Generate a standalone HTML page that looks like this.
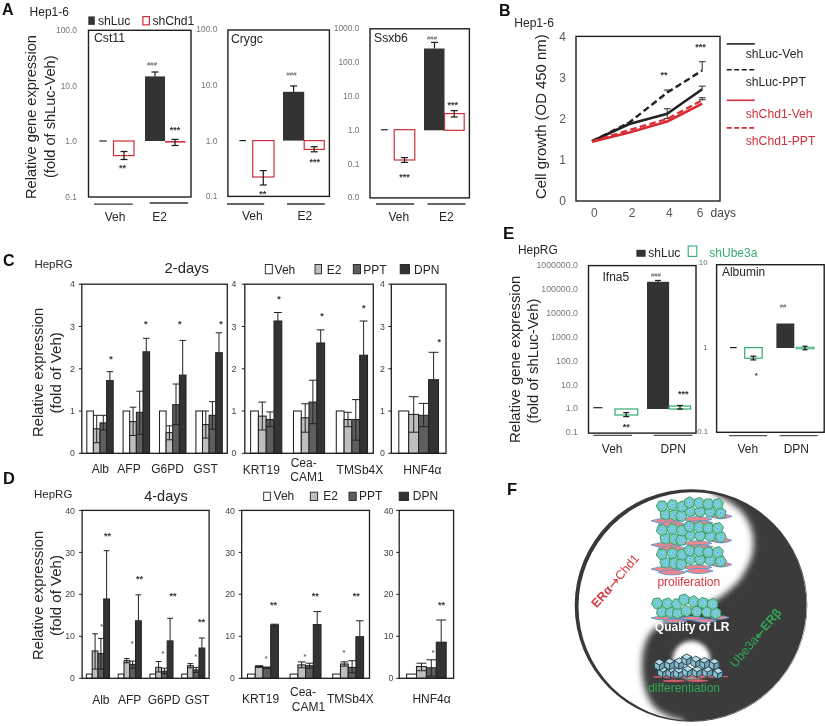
<!DOCTYPE html>
<html><head><meta charset="utf-8"><title>Figure</title>
<style>
html,body{margin:0;padding:0;background:#fff;}
svg{display:block;font-family:"Liberation Sans",sans-serif;}
</style></head><body>
<svg width="825" height="726" viewBox="0 0 825 726">
<rect width="825" height="726" fill="#fff"/>
<text x="2.0" y="14.5" font-size="16" fill="#111" font-weight="bold">A</text>
<text x="29.6" y="16.0" font-size="12" fill="#262626">Hep1-6</text>
<rect x="88.3" y="16.4" width="6.5" height="8.5" fill="#333333"/>
<text x="97.9" y="24.8" font-size="12.2" fill="#262626">shLuc</text>
<rect x="142.9" y="16.6" width="6.5" height="8.2" fill="#fff" stroke="#cc2f3a" stroke-width="1.2"/>
<text x="152.4" y="24.8" font-size="12.2" fill="#262626">shChd1</text>
<text transform="translate(36.2 199.0) rotate(-90)" font-size="14.6" fill="#262626">Relative gene expression</text>
<text transform="translate(55.2 178.0) rotate(-90)" font-size="14.6" fill="#262626">(fold of shLuc-Veh)</text>
<text x="77.0" y="33.3" font-size="8.4" fill="#747474" text-anchor="end">100.0</text>
<text x="77.0" y="88.8" font-size="8.4" fill="#747474" text-anchor="end">10.0</text>
<text x="77.0" y="144.4" font-size="8.4" fill="#747474" text-anchor="end">1.0</text>
<text x="77.0" y="200.0" font-size="8.4" fill="#747474" text-anchor="end">0.1</text>
<text x="94.0" y="42.4" font-size="12.2" fill="#262626">Cst11</text>
<line x1="99.4" y1="141.0" x2="106.7" y2="141.0" stroke="#1f1f1f" stroke-width="1.2"/>
<rect x="113.5" y="141.0" width="20.5" height="14.6" fill="#fff" stroke="#cc2f3a" stroke-width="1.2"/>
<line x1="124.0" y1="151.5" x2="124.0" y2="159.5" stroke="#1f1f1f" stroke-width="1.25"/>
<line x1="120.5" y1="151.5" x2="127.5" y2="151.5" stroke="#1f1f1f" stroke-width="1.25"/>
<line x1="120.5" y1="159.5" x2="127.5" y2="159.5" stroke="#1f1f1f" stroke-width="1.25"/>
<text x="122.4" y="170.6" font-size="9" fill="#333" text-anchor="middle" font-weight="bold">**</text>
<rect x="145.0" y="76.4" width="20.0" height="64.6" fill="#333333"/>
<line x1="155.0" y1="72.0" x2="155.0" y2="76.4" stroke="#1f1f1f" stroke-width="1.25"/>
<line x1="151.5" y1="72.0" x2="158.5" y2="72.0" stroke="#1f1f1f" stroke-width="1.25"/>
<text x="152.0" y="65.7" font-size="6" fill="#555" text-anchor="middle">###</text>
<line x1="165.0" y1="141.8" x2="185.5" y2="141.8" stroke="#cc2f3a" stroke-width="1.6"/>
<line x1="175.0" y1="139.4" x2="175.0" y2="145.5" stroke="#1f1f1f" stroke-width="1.25"/>
<line x1="171.5" y1="139.4" x2="178.5" y2="139.4" stroke="#1f1f1f" stroke-width="1.25"/>
<line x1="171.5" y1="145.5" x2="178.5" y2="145.5" stroke="#1f1f1f" stroke-width="1.25"/>
<text x="175.0" y="132.6" font-size="9" fill="#333" text-anchor="middle" font-weight="bold">***</text>
<rect x="88.5" y="30.3" width="102.5" height="166.7" fill="none" stroke="#1f1f1f" stroke-width="1.4"/>
<line x1="94.0" y1="204.2" x2="132.6" y2="204.2" stroke="#333" stroke-width="1.3"/>
<line x1="149.8" y1="203.0" x2="187.9" y2="203.0" stroke="#333" stroke-width="1.3"/>
<text x="104.7" y="220.5" font-size="12" fill="#262626">Veh</text>
<text x="152.2" y="220.5" font-size="12" fill="#262626">E2</text>
<text x="217.3" y="32.0" font-size="8.4" fill="#747474" text-anchor="end">100.0</text>
<text x="217.3" y="87.5" font-size="8.4" fill="#747474" text-anchor="end">10.0</text>
<text x="217.3" y="143.6" font-size="8.4" fill="#747474" text-anchor="end">1.0</text>
<text x="217.3" y="198.8" font-size="8.4" fill="#747474" text-anchor="end">0.1</text>
<text x="231.0" y="42.7" font-size="12.2" fill="#262626">Crygc</text>
<line x1="239.4" y1="140.6" x2="246.0" y2="140.6" stroke="#1f1f1f" stroke-width="1.2"/>
<rect x="252.7" y="140.6" width="21.3" height="36.4" fill="#fff" stroke="#cc2f3a" stroke-width="1.2"/>
<line x1="263.3" y1="170.6" x2="263.3" y2="185.0" stroke="#1f1f1f" stroke-width="1.25"/>
<line x1="259.8" y1="170.6" x2="266.8" y2="170.6" stroke="#1f1f1f" stroke-width="1.25"/>
<line x1="259.8" y1="185.0" x2="266.8" y2="185.0" stroke="#1f1f1f" stroke-width="1.25"/>
<text x="262.7" y="196.9" font-size="9" fill="#333" text-anchor="middle" font-weight="bold">**</text>
<rect x="283.0" y="91.8" width="21.2" height="48.8" fill="#333333"/>
<line x1="293.6" y1="86.0" x2="293.6" y2="91.8" stroke="#1f1f1f" stroke-width="1.25"/>
<line x1="290.1" y1="86.0" x2="297.1" y2="86.0" stroke="#1f1f1f" stroke-width="1.25"/>
<text x="291.5" y="75.8" font-size="6" fill="#555" text-anchor="middle">###</text>
<rect x="304.2" y="140.6" width="20.0" height="8.8" fill="#fff" stroke="#cc2f3a" stroke-width="1.2"/>
<line x1="314.2" y1="146.7" x2="314.2" y2="151.8" stroke="#1f1f1f" stroke-width="1.25"/>
<line x1="310.7" y1="146.7" x2="317.7" y2="146.7" stroke="#1f1f1f" stroke-width="1.25"/>
<line x1="310.7" y1="151.8" x2="317.7" y2="151.8" stroke="#1f1f1f" stroke-width="1.25"/>
<text x="314.8" y="165.4" font-size="9" fill="#333" text-anchor="middle" font-weight="bold">***</text>
<rect x="227.9" y="30.0" width="101.5" height="166.4" fill="none" stroke="#1f1f1f" stroke-width="1.4"/>
<line x1="227.0" y1="204.0" x2="264.2" y2="204.0" stroke="#333" stroke-width="1.3"/>
<line x1="287.0" y1="204.0" x2="324.8" y2="204.0" stroke="#333" stroke-width="1.3"/>
<text x="242.0" y="220.0" font-size="12" fill="#262626">Veh</text>
<text x="297.6" y="220.0" font-size="12" fill="#262626">E2</text>
<text x="359.4" y="31.2" font-size="8.4" fill="#747474" text-anchor="end">1000.0</text>
<text x="359.4" y="65.1" font-size="8.4" fill="#747474" text-anchor="end">100.0</text>
<text x="359.4" y="98.8" font-size="8.4" fill="#747474" text-anchor="end">10.0</text>
<text x="359.4" y="132.7" font-size="8.4" fill="#747474" text-anchor="end">1.0</text>
<text x="359.4" y="166.6" font-size="8.4" fill="#747474" text-anchor="end">0.1</text>
<text x="359.4" y="200.3" font-size="8.4" fill="#747474" text-anchor="end">0.0</text>
<text x="374.0" y="42.4" font-size="12.2" fill="#262626">Ssxb6</text>
<line x1="381.0" y1="129.7" x2="387.6" y2="129.7" stroke="#1f1f1f" stroke-width="1.2"/>
<rect x="394.2" y="129.7" width="20.6" height="30.3" fill="#fff" stroke="#cc2f3a" stroke-width="1.2"/>
<line x1="404.5" y1="157.6" x2="404.5" y2="162.4" stroke="#1f1f1f" stroke-width="1.25"/>
<line x1="401.0" y1="157.6" x2="408.0" y2="157.6" stroke="#1f1f1f" stroke-width="1.25"/>
<line x1="401.0" y1="162.4" x2="408.0" y2="162.4" stroke="#1f1f1f" stroke-width="1.25"/>
<text x="404.5" y="179.6" font-size="9" fill="#333" text-anchor="middle" font-weight="bold">***</text>
<rect x="424.0" y="48.5" width="20.5" height="81.8" fill="#333333"/>
<line x1="434.5" y1="42.4" x2="434.5" y2="48.5" stroke="#1f1f1f" stroke-width="1.25"/>
<line x1="431.0" y1="42.4" x2="438.0" y2="42.4" stroke="#1f1f1f" stroke-width="1.25"/>
<text x="432.0" y="40.4" font-size="6" fill="#555" text-anchor="middle">###</text>
<rect x="444.5" y="113.6" width="19.7" height="16.7" fill="#fff" stroke="#cc2f3a" stroke-width="1.2"/>
<line x1="454.2" y1="110.6" x2="454.2" y2="117.0" stroke="#1f1f1f" stroke-width="1.25"/>
<line x1="450.7" y1="110.6" x2="457.7" y2="110.6" stroke="#1f1f1f" stroke-width="1.25"/>
<line x1="450.7" y1="117.0" x2="457.7" y2="117.0" stroke="#1f1f1f" stroke-width="1.25"/>
<text x="452.7" y="108.1" font-size="9" fill="#333" text-anchor="middle" font-weight="bold">***</text>
<rect x="370.0" y="28.8" width="99.4" height="169.1" fill="none" stroke="#1f1f1f" stroke-width="1.4"/>
<line x1="376.0" y1="204.0" x2="414.2" y2="204.0" stroke="#333" stroke-width="1.3"/>
<line x1="427.6" y1="204.0" x2="465.5" y2="204.0" stroke="#333" stroke-width="1.3"/>
<text x="388.5" y="221.2" font-size="12" fill="#262626">Veh</text>
<text x="439.0" y="221.3" font-size="12" fill="#262626">E2</text>
<text x="499.0" y="16.2" font-size="16" fill="#111" font-weight="bold">B</text>
<text x="514.2" y="26.8" font-size="12.1" fill="#262626">Hep1-6</text>
<text transform="translate(545.7 199.0) rotate(-90)" font-size="14.9" fill="#262626">Cell growth (OD 450 nm)</text>
<text x="562.7" y="40.7" font-size="12" fill="#595959" text-anchor="middle">4</text>
<text x="562.7" y="81.9" font-size="12" fill="#595959" text-anchor="middle">3</text>
<text x="562.7" y="122.9" font-size="12" fill="#595959" text-anchor="middle">2</text>
<text x="562.7" y="164.2" font-size="12" fill="#595959" text-anchor="middle">1</text>
<text x="562.7" y="204.9" font-size="12" fill="#595959" text-anchor="middle">0</text>
<text x="594.4" y="217.3" font-size="12" fill="#595959" text-anchor="middle">0</text>
<text x="632.0" y="217.3" font-size="12" fill="#595959" text-anchor="middle">2</text>
<text x="669.4" y="217.3" font-size="12" fill="#595959" text-anchor="middle">4</text>
<text x="700.0" y="217.3" font-size="12" fill="#595959" text-anchor="middle">6</text>
<text x="710.6" y="217.3" font-size="12" fill="#444">days</text>
<line x1="667.2" y1="90.0" x2="667.2" y2="92.6" stroke="#4a4a4a" stroke-width="1.2"/>
<line x1="663.8" y1="90.0" x2="670.6" y2="90.0" stroke="#4a4a4a" stroke-width="1.2"/>
<line x1="702.2" y1="61.7" x2="702.2" y2="70.5" stroke="#4a4a4a" stroke-width="1.2"/>
<line x1="698.8" y1="61.7" x2="705.6" y2="61.7" stroke="#4a4a4a" stroke-width="1.2"/>
<line x1="667.2" y1="108.7" x2="667.2" y2="118.5" stroke="#4a4a4a" stroke-width="1.2"/>
<line x1="663.8" y1="108.7" x2="670.6" y2="108.7" stroke="#4a4a4a" stroke-width="1.2"/>
<line x1="663.8" y1="118.5" x2="670.6" y2="118.5" stroke="#4a4a4a" stroke-width="1.2"/>
<line x1="702.2" y1="86.2" x2="702.2" y2="89.2" stroke="#4a4a4a" stroke-width="1.2"/>
<line x1="698.8" y1="86.2" x2="705.6" y2="86.2" stroke="#4a4a4a" stroke-width="1.2"/>
<line x1="702.2" y1="97.7" x2="702.2" y2="100.2" stroke="#4a4a4a" stroke-width="1.2"/>
<line x1="698.8" y1="97.7" x2="705.6" y2="97.7" stroke="#4a4a4a" stroke-width="1.2"/>
<line x1="698.8" y1="99.7" x2="705.6" y2="99.7" stroke="#4a4a4a" stroke-width="1.2"/>
<line x1="629.3" y1="122.6" x2="629.3" y2="124.0" stroke="#4a4a4a" stroke-width="1.2"/>
<line x1="626.5" y1="122.6" x2="632.0" y2="122.6" stroke="#4a4a4a" stroke-width="1.2"/>
<polyline points="592.0,141.2 629.3,124.0 667.2,113.8 702.2,89.2" fill="none" stroke="#222" stroke-width="2.6" stroke-linejoin="round"/>
<polyline points="592.0,141.2 629.3,122.5 667.2,92.6 702.2,70.5" fill="none" stroke="#222" stroke-width="2.4" stroke-linejoin="round" stroke-dasharray="6.5 3.5"/>
<polyline points="592.0,141.5 629.3,130.0 667.2,118.9 702.2,100.2" fill="none" stroke="#dc2a34" stroke-width="2.2" stroke-linejoin="round" stroke-dasharray="6.5 3.5"/>
<polyline points="592.0,141.8 629.3,132.5 667.2,121.5 702.2,103.6" fill="none" stroke="#dc2a34" stroke-width="2.6" stroke-linejoin="round"/>
<rect x="576.0" y="36.4" width="144.0" height="164.6" fill="none" stroke="#1f1f1f" stroke-width="1.4"/>
<text x="664.0" y="77.9" font-size="9" fill="#333" text-anchor="middle" font-weight="bold">**</text>
<text x="700.4" y="50.2" font-size="9" fill="#333" text-anchor="middle" font-weight="bold">***</text>
<line x1="726.7" y1="43.9" x2="754.8" y2="43.9" stroke="#222" stroke-width="1.6"/>
<line x1="726.7" y1="69.8" x2="754.8" y2="69.8" stroke="#222" stroke-width="1.6" stroke-dasharray="5 2.5"/>
<line x1="726.7" y1="100.3" x2="754.8" y2="100.3" stroke="#cc2f3a" stroke-width="1.6"/>
<line x1="726.7" y1="127.9" x2="754.8" y2="127.9" stroke="#cc2f3a" stroke-width="1.6" stroke-dasharray="5 2.5"/>
<text x="745.8" y="58.4" font-size="12.15" fill="#262626">shLuc-Veh</text>
<text x="745.8" y="85.7" font-size="12.15" fill="#262626">shLuc-PPT</text>
<text x="745.8" y="117.5" font-size="12.15" fill="#cc2f3a">shChd1-Veh</text>
<text x="745.8" y="144.5" font-size="12.15" fill="#cc2f3a">shChd1-PPT</text>
<text x="3.0" y="266.0" font-size="16" fill="#111" font-weight="bold">C</text>
<text x="34.4" y="267.8" font-size="11.5" fill="#262626">HepRG</text>
<text x="164.5" y="272.7" font-size="14.8" fill="#262626">2-days</text>
<text transform="translate(42.7 437.0) rotate(-90)" font-size="14.8" fill="#262626">Relative expression</text>
<text transform="translate(61.2 413.5) rotate(-90)" font-size="15.1" fill="#262626">(fold of Veh)</text>
<rect x="265.3" y="264.5" width="7.0" height="9.3" fill="#fff" stroke="#222" stroke-width="0.9"/>
<text x="274.6" y="273.8" font-size="12" fill="#262626">Veh</text>
<rect x="315.0" y="264.5" width="6.5" height="9.3" fill="#bebebe" stroke="#222" stroke-width="0.9"/>
<text x="326.8" y="273.8" font-size="12" fill="#262626">E2</text>
<rect x="353.3" y="264.5" width="7.2" height="9.3" fill="#5e5e5e" stroke="#222" stroke-width="0.9"/>
<text x="363.2" y="273.8" font-size="12" fill="#262626">PPT</text>
<rect x="400.2" y="264.5" width="9.3" height="9.3" fill="#333333" stroke="#222" stroke-width="0.9"/>
<text x="414.0" y="273.8" font-size="12" fill="#262626">DPN</text>
<rect x="86.8" y="411.0" width="6.6" height="42.3" fill="#ffffff" stroke="#222" stroke-width="1.05"/>
<rect x="93.4" y="428.8" width="6.6" height="24.5" fill="#bebebe" stroke="#222" stroke-width="1.05"/>
<rect x="100.0" y="422.9" width="6.6" height="30.4" fill="#5e5e5e" stroke="#222" stroke-width="1.05"/>
<rect x="106.6" y="380.6" width="6.6" height="72.7" fill="#333333" stroke="#222" stroke-width="1.05"/>
<line x1="96.7" y1="415.3" x2="96.7" y2="442.7" stroke="#222" stroke-width="1.0"/>
<line x1="93.4" y1="415.3" x2="100.0" y2="415.3" stroke="#222" stroke-width="1.0"/>
<line x1="93.4" y1="442.7" x2="100.0" y2="442.7" stroke="#222" stroke-width="1.0"/>
<line x1="103.3" y1="415.3" x2="103.3" y2="430.0" stroke="#222" stroke-width="1.0"/>
<line x1="100.0" y1="415.3" x2="106.6" y2="415.3" stroke="#222" stroke-width="1.0"/>
<line x1="100.0" y1="430.0" x2="106.6" y2="430.0" stroke="#222" stroke-width="1.0"/>
<line x1="109.9" y1="371.7" x2="109.9" y2="380.6" stroke="#222" stroke-width="1.0"/>
<line x1="106.6" y1="371.7" x2="113.2" y2="371.7" stroke="#222" stroke-width="1.0"/>
<rect x="123.1" y="411.0" width="6.6" height="42.3" fill="#ffffff" stroke="#222" stroke-width="1.05"/>
<rect x="129.7" y="421.6" width="6.6" height="31.7" fill="#bebebe" stroke="#222" stroke-width="1.05"/>
<rect x="136.4" y="412.3" width="6.6" height="41.0" fill="#5e5e5e" stroke="#222" stroke-width="1.05"/>
<rect x="143.0" y="351.8" width="6.6" height="101.5" fill="#333333" stroke="#222" stroke-width="1.05"/>
<line x1="133.1" y1="407.2" x2="133.1" y2="435.5" stroke="#222" stroke-width="1.0"/>
<line x1="129.7" y1="407.2" x2="136.4" y2="407.2" stroke="#222" stroke-width="1.0"/>
<line x1="129.7" y1="435.5" x2="136.4" y2="435.5" stroke="#222" stroke-width="1.0"/>
<line x1="139.7" y1="391.2" x2="139.7" y2="434.3" stroke="#222" stroke-width="1.0"/>
<line x1="136.4" y1="391.2" x2="143.0" y2="391.2" stroke="#222" stroke-width="1.0"/>
<line x1="136.4" y1="434.3" x2="143.0" y2="434.3" stroke="#222" stroke-width="1.0"/>
<line x1="146.3" y1="338.3" x2="146.3" y2="351.8" stroke="#222" stroke-width="1.0"/>
<line x1="143.0" y1="338.3" x2="149.6" y2="338.3" stroke="#222" stroke-width="1.0"/>
<rect x="159.5" y="411.0" width="6.6" height="42.3" fill="#ffffff" stroke="#222" stroke-width="1.05"/>
<rect x="166.1" y="432.6" width="6.6" height="20.7" fill="#bebebe" stroke="#222" stroke-width="1.05"/>
<rect x="172.7" y="404.7" width="6.6" height="48.6" fill="#5e5e5e" stroke="#222" stroke-width="1.05"/>
<rect x="179.4" y="375.1" width="6.6" height="78.2" fill="#333333" stroke="#222" stroke-width="1.05"/>
<line x1="169.4" y1="425.8" x2="169.4" y2="439.8" stroke="#222" stroke-width="1.0"/>
<line x1="166.1" y1="425.8" x2="172.7" y2="425.8" stroke="#222" stroke-width="1.0"/>
<line x1="166.1" y1="439.8" x2="172.7" y2="439.8" stroke="#222" stroke-width="1.0"/>
<line x1="176.0" y1="384.0" x2="176.0" y2="424.6" stroke="#222" stroke-width="1.0"/>
<line x1="172.7" y1="384.0" x2="179.4" y2="384.0" stroke="#222" stroke-width="1.0"/>
<line x1="172.7" y1="424.6" x2="179.4" y2="424.6" stroke="#222" stroke-width="1.0"/>
<line x1="182.7" y1="340.4" x2="182.7" y2="375.1" stroke="#222" stroke-width="1.0"/>
<line x1="179.4" y1="340.4" x2="186.0" y2="340.4" stroke="#222" stroke-width="1.0"/>
<rect x="195.9" y="411.0" width="6.6" height="42.3" fill="#ffffff" stroke="#222" stroke-width="1.05"/>
<rect x="202.5" y="424.6" width="6.6" height="28.7" fill="#bebebe" stroke="#222" stroke-width="1.05"/>
<rect x="209.1" y="415.3" width="6.6" height="38.0" fill="#5e5e5e" stroke="#222" stroke-width="1.05"/>
<rect x="215.7" y="352.7" width="6.6" height="100.6" fill="#333333" stroke="#222" stroke-width="1.05"/>
<line x1="205.8" y1="411.0" x2="205.8" y2="438.1" stroke="#222" stroke-width="1.0"/>
<line x1="202.5" y1="411.0" x2="209.1" y2="411.0" stroke="#222" stroke-width="1.0"/>
<line x1="202.5" y1="438.1" x2="209.1" y2="438.1" stroke="#222" stroke-width="1.0"/>
<line x1="212.4" y1="401.7" x2="212.4" y2="429.2" stroke="#222" stroke-width="1.0"/>
<line x1="209.1" y1="401.7" x2="215.7" y2="401.7" stroke="#222" stroke-width="1.0"/>
<line x1="209.1" y1="429.2" x2="215.7" y2="429.2" stroke="#222" stroke-width="1.0"/>
<line x1="219.0" y1="332.8" x2="219.0" y2="352.7" stroke="#222" stroke-width="1.0"/>
<line x1="215.7" y1="332.8" x2="222.3" y2="332.8" stroke="#222" stroke-width="1.0"/>
<rect x="81.8" y="284.2" width="145.5" height="169.1" fill="none" stroke="#1f1f1f" stroke-width="1.3"/>
<line x1="78.8" y1="453.3" x2="81.8" y2="453.3" stroke="#1f1f1f" stroke-width="1"/>
<text x="75.0" y="456.4" font-size="8.8" fill="#444" text-anchor="end">0</text>
<line x1="78.8" y1="411.0" x2="81.8" y2="411.0" stroke="#1f1f1f" stroke-width="1"/>
<text x="75.0" y="414.1" font-size="8.8" fill="#444" text-anchor="end">1</text>
<line x1="78.8" y1="368.8" x2="81.8" y2="368.8" stroke="#1f1f1f" stroke-width="1"/>
<text x="75.0" y="371.9" font-size="8.8" fill="#444" text-anchor="end">2</text>
<line x1="78.8" y1="326.5" x2="81.8" y2="326.5" stroke="#1f1f1f" stroke-width="1"/>
<text x="75.0" y="329.6" font-size="8.8" fill="#444" text-anchor="end">3</text>
<line x1="78.8" y1="284.2" x2="81.8" y2="284.2" stroke="#1f1f1f" stroke-width="1"/>
<text x="75.0" y="287.3" font-size="8.8" fill="#444" text-anchor="end">4</text>
<rect x="250.6" y="411.0" width="7.8" height="42.3" fill="#ffffff" stroke="#222" stroke-width="1.05"/>
<rect x="258.4" y="416.1" width="7.8" height="37.2" fill="#bebebe" stroke="#222" stroke-width="1.05"/>
<rect x="266.2" y="419.5" width="7.8" height="33.8" fill="#5e5e5e" stroke="#222" stroke-width="1.05"/>
<rect x="274.0" y="321.0" width="7.8" height="132.3" fill="#333333" stroke="#222" stroke-width="1.05"/>
<line x1="262.3" y1="402.1" x2="262.3" y2="430.0" stroke="#222" stroke-width="1.0"/>
<line x1="258.4" y1="402.1" x2="266.2" y2="402.1" stroke="#222" stroke-width="1.0"/>
<line x1="258.4" y1="430.0" x2="266.2" y2="430.0" stroke="#222" stroke-width="1.0"/>
<line x1="270.1" y1="411.9" x2="270.1" y2="426.7" stroke="#222" stroke-width="1.0"/>
<line x1="266.2" y1="411.9" x2="274.0" y2="411.9" stroke="#222" stroke-width="1.0"/>
<line x1="266.2" y1="426.7" x2="274.0" y2="426.7" stroke="#222" stroke-width="1.0"/>
<line x1="277.9" y1="312.5" x2="277.9" y2="321.0" stroke="#222" stroke-width="1.0"/>
<line x1="274.0" y1="312.5" x2="281.8" y2="312.5" stroke="#222" stroke-width="1.0"/>
<rect x="293.5" y="411.0" width="7.8" height="42.3" fill="#ffffff" stroke="#222" stroke-width="1.05"/>
<rect x="301.3" y="417.8" width="7.8" height="35.5" fill="#bebebe" stroke="#222" stroke-width="1.05"/>
<rect x="309.0" y="402.1" width="7.8" height="51.2" fill="#5e5e5e" stroke="#222" stroke-width="1.05"/>
<rect x="316.8" y="343.0" width="7.8" height="110.3" fill="#333333" stroke="#222" stroke-width="1.05"/>
<line x1="305.2" y1="403.8" x2="305.2" y2="432.2" stroke="#222" stroke-width="1.0"/>
<line x1="301.3" y1="403.8" x2="309.0" y2="403.8" stroke="#222" stroke-width="1.0"/>
<line x1="301.3" y1="432.2" x2="309.0" y2="432.2" stroke="#222" stroke-width="1.0"/>
<line x1="312.9" y1="380.2" x2="312.9" y2="423.7" stroke="#222" stroke-width="1.0"/>
<line x1="309.0" y1="380.2" x2="316.8" y2="380.2" stroke="#222" stroke-width="1.0"/>
<line x1="309.0" y1="423.7" x2="316.8" y2="423.7" stroke="#222" stroke-width="1.0"/>
<line x1="320.7" y1="329.9" x2="320.7" y2="343.0" stroke="#222" stroke-width="1.0"/>
<line x1="316.8" y1="329.9" x2="324.6" y2="329.9" stroke="#222" stroke-width="1.0"/>
<rect x="336.3" y="411.0" width="7.8" height="42.3" fill="#ffffff" stroke="#222" stroke-width="1.05"/>
<rect x="344.1" y="419.5" width="7.8" height="33.8" fill="#bebebe" stroke="#222" stroke-width="1.05"/>
<rect x="351.9" y="419.5" width="7.8" height="33.8" fill="#5e5e5e" stroke="#222" stroke-width="1.05"/>
<rect x="359.7" y="355.2" width="7.8" height="98.1" fill="#333333" stroke="#222" stroke-width="1.05"/>
<line x1="348.0" y1="412.3" x2="348.0" y2="426.7" stroke="#222" stroke-width="1.0"/>
<line x1="344.1" y1="412.3" x2="351.9" y2="412.3" stroke="#222" stroke-width="1.0"/>
<line x1="344.1" y1="426.7" x2="351.9" y2="426.7" stroke="#222" stroke-width="1.0"/>
<line x1="355.8" y1="399.6" x2="355.8" y2="440.2" stroke="#222" stroke-width="1.0"/>
<line x1="351.9" y1="399.6" x2="359.7" y2="399.6" stroke="#222" stroke-width="1.0"/>
<line x1="351.9" y1="440.2" x2="359.7" y2="440.2" stroke="#222" stroke-width="1.0"/>
<line x1="363.6" y1="321.0" x2="363.6" y2="355.2" stroke="#222" stroke-width="1.0"/>
<line x1="359.7" y1="321.0" x2="367.5" y2="321.0" stroke="#222" stroke-width="1.0"/>
<rect x="244.8" y="284.2" width="128.5" height="169.1" fill="none" stroke="#1f1f1f" stroke-width="1.3"/>
<line x1="241.8" y1="453.3" x2="244.8" y2="453.3" stroke="#1f1f1f" stroke-width="1"/>
<text x="236.5" y="456.4" font-size="8.8" fill="#444" text-anchor="end">0</text>
<line x1="241.8" y1="411.0" x2="244.8" y2="411.0" stroke="#1f1f1f" stroke-width="1"/>
<text x="236.5" y="414.1" font-size="8.8" fill="#444" text-anchor="end">1</text>
<line x1="241.8" y1="368.8" x2="244.8" y2="368.8" stroke="#1f1f1f" stroke-width="1"/>
<text x="236.5" y="371.9" font-size="8.8" fill="#444" text-anchor="end">2</text>
<line x1="241.8" y1="326.5" x2="244.8" y2="326.5" stroke="#1f1f1f" stroke-width="1"/>
<text x="236.5" y="329.6" font-size="8.8" fill="#444" text-anchor="end">3</text>
<line x1="241.8" y1="284.2" x2="244.8" y2="284.2" stroke="#1f1f1f" stroke-width="1"/>
<text x="236.5" y="287.3" font-size="8.8" fill="#444" text-anchor="end">4</text>
<rect x="398.8" y="411.0" width="9.9" height="42.3" fill="#ffffff" stroke="#222" stroke-width="1.05"/>
<rect x="408.7" y="414.4" width="9.9" height="38.9" fill="#bebebe" stroke="#222" stroke-width="1.05"/>
<rect x="418.6" y="415.3" width="9.9" height="38.0" fill="#5e5e5e" stroke="#222" stroke-width="1.05"/>
<rect x="428.6" y="379.7" width="9.9" height="73.6" fill="#333333" stroke="#222" stroke-width="1.05"/>
<line x1="413.7" y1="396.7" x2="413.7" y2="432.2" stroke="#222" stroke-width="1.0"/>
<line x1="408.7" y1="396.7" x2="418.6" y2="396.7" stroke="#222" stroke-width="1.0"/>
<line x1="408.7" y1="432.2" x2="418.6" y2="432.2" stroke="#222" stroke-width="1.0"/>
<line x1="423.6" y1="403.4" x2="423.6" y2="426.7" stroke="#222" stroke-width="1.0"/>
<line x1="418.6" y1="403.4" x2="428.6" y2="403.4" stroke="#222" stroke-width="1.0"/>
<line x1="418.6" y1="426.7" x2="428.6" y2="426.7" stroke="#222" stroke-width="1.0"/>
<line x1="433.6" y1="352.3" x2="433.6" y2="379.7" stroke="#222" stroke-width="1.0"/>
<line x1="428.6" y1="352.3" x2="438.5" y2="352.3" stroke="#222" stroke-width="1.0"/>
<rect x="391.3" y="284.2" width="54.7" height="169.1" fill="none" stroke="#1f1f1f" stroke-width="1.3"/>
<line x1="388.3" y1="453.3" x2="391.3" y2="453.3" stroke="#1f1f1f" stroke-width="1"/>
<text x="385.0" y="456.4" font-size="8.8" fill="#444" text-anchor="end">0</text>
<line x1="388.3" y1="411.0" x2="391.3" y2="411.0" stroke="#1f1f1f" stroke-width="1"/>
<text x="385.0" y="414.1" font-size="8.8" fill="#444" text-anchor="end">1</text>
<line x1="388.3" y1="368.8" x2="391.3" y2="368.8" stroke="#1f1f1f" stroke-width="1"/>
<text x="385.0" y="371.9" font-size="8.8" fill="#444" text-anchor="end">2</text>
<line x1="388.3" y1="326.5" x2="391.3" y2="326.5" stroke="#1f1f1f" stroke-width="1"/>
<text x="385.0" y="329.6" font-size="8.8" fill="#444" text-anchor="end">3</text>
<line x1="388.3" y1="284.2" x2="391.3" y2="284.2" stroke="#1f1f1f" stroke-width="1"/>
<text x="385.0" y="287.3" font-size="8.8" fill="#444" text-anchor="end">4</text>
<text x="111.0" y="362.1" font-size="9" fill="#333" text-anchor="middle" font-weight="bold">*</text>
<text x="145.8" y="326.6" font-size="9" fill="#333" text-anchor="middle" font-weight="bold">*</text>
<text x="179.7" y="326.6" font-size="9" fill="#333" text-anchor="middle" font-weight="bold">*</text>
<text x="221.0" y="326.6" font-size="9" fill="#333" text-anchor="middle" font-weight="bold">*</text>
<text x="278.9" y="302.2" font-size="9" fill="#333" text-anchor="middle" font-weight="bold">*</text>
<text x="321.9" y="318.6" font-size="9" fill="#333" text-anchor="middle" font-weight="bold">*</text>
<text x="363.8" y="310.5" font-size="9" fill="#333" text-anchor="middle" font-weight="bold">*</text>
<text x="439.2" y="344.5" font-size="9" fill="#333" text-anchor="middle" font-weight="bold">*</text>
<text x="100.3" y="473.0" font-size="12" fill="#262626" text-anchor="middle">Alb</text>
<text x="129.0" y="473.0" font-size="12" fill="#262626" text-anchor="middle">AFP</text>
<text x="167.6" y="473.0" font-size="12" fill="#262626" text-anchor="middle">G6PD</text>
<text x="205.5" y="473.0" font-size="12" fill="#262626" text-anchor="middle">GST</text>
<text x="261.4" y="474.0" font-size="12" fill="#262626" text-anchor="middle">KRT19</text>
<text x="303.7" y="466.5" font-size="12" fill="#262626" text-anchor="middle">Cea-</text>
<text x="307.0" y="481.4" font-size="12" fill="#262626" text-anchor="middle">CAM1</text>
<text x="359.9" y="474.0" font-size="12" fill="#262626" text-anchor="middle">TMSb4X</text>
<text x="422.4" y="474.0" font-size="12" fill="#262626" text-anchor="middle">HNF4α</text>
<text x="3.0" y="484.2" font-size="16.5" fill="#111" font-weight="bold">D</text>
<text x="34.0" y="498.0" font-size="11.5" fill="#262626">HepRG</text>
<text x="144.2" y="500.6" font-size="14.5" fill="#262626">4-days</text>
<text transform="translate(42.7 660.0) rotate(-90)" font-size="14.8" fill="#262626">Relative expression</text>
<text transform="translate(61.0 636.0) rotate(-90)" font-size="15" fill="#262626">(fold of Veh)</text>
<rect x="263.7" y="492.2" width="6.6" height="8.3" fill="#fff" stroke="#222" stroke-width="0.9"/>
<text x="273.6" y="499.8" font-size="12" fill="#262626">Veh</text>
<rect x="310.3" y="492.2" width="7.3" height="8.3" fill="#bebebe" stroke="#222" stroke-width="0.9"/>
<text x="323.2" y="499.8" font-size="12" fill="#262626">E2</text>
<rect x="349.0" y="492.2" width="7.2" height="8.3" fill="#5e5e5e" stroke="#222" stroke-width="0.9"/>
<text x="358.9" y="499.8" font-size="12" fill="#262626">PPT</text>
<rect x="399.2" y="492.2" width="9.3" height="8.3" fill="#333333" stroke="#222" stroke-width="0.9"/>
<text x="412.8" y="499.8" font-size="12" fill="#262626">DPN</text>
<rect x="86.4" y="674.1" width="5.8" height="4.2" fill="#ffffff" stroke="#222" stroke-width="1.05"/>
<rect x="92.2" y="651.0" width="5.8" height="27.3" fill="#bebebe" stroke="#222" stroke-width="1.05"/>
<rect x="98.0" y="653.5" width="5.8" height="24.8" fill="#5e5e5e" stroke="#222" stroke-width="1.05"/>
<rect x="103.7" y="599.0" width="5.8" height="79.3" fill="#333333" stroke="#222" stroke-width="1.05"/>
<line x1="95.1" y1="633.8" x2="95.1" y2="669.1" stroke="#222" stroke-width="1.0"/>
<line x1="92.2" y1="633.8" x2="98.0" y2="633.8" stroke="#222" stroke-width="1.0"/>
<line x1="92.2" y1="669.1" x2="98.0" y2="669.1" stroke="#222" stroke-width="1.0"/>
<line x1="100.9" y1="638.4" x2="100.9" y2="669.1" stroke="#222" stroke-width="1.0"/>
<line x1="98.0" y1="638.4" x2="103.7" y2="638.4" stroke="#222" stroke-width="1.0"/>
<line x1="98.0" y1="669.1" x2="103.7" y2="669.1" stroke="#222" stroke-width="1.0"/>
<line x1="106.6" y1="550.7" x2="106.6" y2="599.0" stroke="#222" stroke-width="1.0"/>
<line x1="103.7" y1="550.7" x2="109.5" y2="550.7" stroke="#222" stroke-width="1.0"/>
<rect x="118.2" y="674.1" width="5.8" height="4.2" fill="#ffffff" stroke="#222" stroke-width="1.05"/>
<rect x="124.0" y="660.7" width="5.8" height="17.6" fill="#bebebe" stroke="#222" stroke-width="1.05"/>
<rect x="129.7" y="664.4" width="5.8" height="13.9" fill="#5e5e5e" stroke="#222" stroke-width="1.05"/>
<rect x="135.5" y="620.8" width="5.8" height="57.5" fill="#333333" stroke="#222" stroke-width="1.05"/>
<line x1="126.8" y1="658.6" x2="126.8" y2="662.8" stroke="#222" stroke-width="1.0"/>
<line x1="124.0" y1="658.6" x2="129.7" y2="658.6" stroke="#222" stroke-width="1.0"/>
<line x1="124.0" y1="662.8" x2="129.7" y2="662.8" stroke="#222" stroke-width="1.0"/>
<line x1="132.6" y1="661.1" x2="132.6" y2="668.2" stroke="#222" stroke-width="1.0"/>
<line x1="129.7" y1="661.1" x2="135.5" y2="661.1" stroke="#222" stroke-width="1.0"/>
<line x1="129.7" y1="668.2" x2="135.5" y2="668.2" stroke="#222" stroke-width="1.0"/>
<line x1="138.4" y1="594.8" x2="138.4" y2="620.8" stroke="#222" stroke-width="1.0"/>
<line x1="135.5" y1="594.8" x2="141.3" y2="594.8" stroke="#222" stroke-width="1.0"/>
<rect x="149.9" y="674.1" width="5.8" height="4.2" fill="#ffffff" stroke="#222" stroke-width="1.05"/>
<rect x="155.7" y="667.4" width="5.8" height="10.9" fill="#bebebe" stroke="#222" stroke-width="1.05"/>
<rect x="161.5" y="671.2" width="5.8" height="7.1" fill="#5e5e5e" stroke="#222" stroke-width="1.05"/>
<rect x="167.2" y="640.9" width="5.8" height="37.4" fill="#333333" stroke="#222" stroke-width="1.05"/>
<line x1="158.6" y1="661.5" x2="158.6" y2="672.0" stroke="#222" stroke-width="1.0"/>
<line x1="155.7" y1="661.5" x2="161.5" y2="661.5" stroke="#222" stroke-width="1.0"/>
<line x1="155.7" y1="672.0" x2="161.5" y2="672.0" stroke="#222" stroke-width="1.0"/>
<line x1="164.4" y1="668.2" x2="164.4" y2="673.7" stroke="#222" stroke-width="1.0"/>
<line x1="161.5" y1="668.2" x2="167.2" y2="668.2" stroke="#222" stroke-width="1.0"/>
<line x1="161.5" y1="673.7" x2="167.2" y2="673.7" stroke="#222" stroke-width="1.0"/>
<line x1="170.1" y1="618.3" x2="170.1" y2="640.9" stroke="#222" stroke-width="1.0"/>
<line x1="167.2" y1="618.3" x2="173.0" y2="618.3" stroke="#222" stroke-width="1.0"/>
<rect x="181.7" y="674.1" width="5.8" height="4.2" fill="#ffffff" stroke="#222" stroke-width="1.05"/>
<rect x="187.5" y="665.7" width="5.8" height="12.6" fill="#bebebe" stroke="#222" stroke-width="1.05"/>
<rect x="193.2" y="669.9" width="5.8" height="8.4" fill="#5e5e5e" stroke="#222" stroke-width="1.05"/>
<rect x="199.0" y="648.1" width="5.8" height="30.2" fill="#333333" stroke="#222" stroke-width="1.05"/>
<line x1="190.3" y1="663.6" x2="190.3" y2="667.8" stroke="#222" stroke-width="1.0"/>
<line x1="187.5" y1="663.6" x2="193.2" y2="663.6" stroke="#222" stroke-width="1.0"/>
<line x1="187.5" y1="667.8" x2="193.2" y2="667.8" stroke="#222" stroke-width="1.0"/>
<line x1="196.1" y1="667.4" x2="196.1" y2="672.4" stroke="#222" stroke-width="1.0"/>
<line x1="193.2" y1="667.4" x2="199.0" y2="667.4" stroke="#222" stroke-width="1.0"/>
<line x1="193.2" y1="672.4" x2="199.0" y2="672.4" stroke="#222" stroke-width="1.0"/>
<line x1="201.9" y1="638.0" x2="201.9" y2="648.1" stroke="#222" stroke-width="1.0"/>
<line x1="199.0" y1="638.0" x2="204.8" y2="638.0" stroke="#222" stroke-width="1.0"/>
<rect x="82.1" y="510.4" width="127.0" height="167.9" fill="none" stroke="#1f1f1f" stroke-width="1.3"/>
<line x1="79.1" y1="678.3" x2="82.1" y2="678.3" stroke="#1f1f1f" stroke-width="1"/>
<text x="75.0" y="681.4" font-size="8.8" fill="#444" text-anchor="end">0</text>
<line x1="79.1" y1="636.3" x2="82.1" y2="636.3" stroke="#1f1f1f" stroke-width="1"/>
<text x="75.0" y="639.4" font-size="8.8" fill="#444" text-anchor="end">10</text>
<line x1="79.1" y1="594.3" x2="82.1" y2="594.3" stroke="#1f1f1f" stroke-width="1"/>
<text x="75.0" y="597.4" font-size="8.8" fill="#444" text-anchor="end">20</text>
<line x1="79.1" y1="552.4" x2="82.1" y2="552.4" stroke="#1f1f1f" stroke-width="1"/>
<text x="75.0" y="555.5" font-size="8.8" fill="#444" text-anchor="end">30</text>
<line x1="79.1" y1="510.4" x2="82.1" y2="510.4" stroke="#1f1f1f" stroke-width="1"/>
<text x="75.0" y="513.5" font-size="8.8" fill="#444" text-anchor="end">40</text>
<rect x="247.5" y="674.1" width="7.7" height="4.2" fill="#ffffff" stroke="#222" stroke-width="1.05"/>
<rect x="255.3" y="666.5" width="7.7" height="11.8" fill="#bebebe" stroke="#222" stroke-width="1.05"/>
<rect x="263.0" y="667.8" width="7.7" height="10.5" fill="#5e5e5e" stroke="#222" stroke-width="1.05"/>
<rect x="270.7" y="625.0" width="7.7" height="53.3" fill="#333333" stroke="#222" stroke-width="1.05"/>
<line x1="259.1" y1="665.7" x2="259.1" y2="667.4" stroke="#222" stroke-width="1.0"/>
<line x1="255.3" y1="665.7" x2="263.0" y2="665.7" stroke="#222" stroke-width="1.0"/>
<line x1="255.3" y1="667.4" x2="263.0" y2="667.4" stroke="#222" stroke-width="1.0"/>
<line x1="266.9" y1="667.0" x2="266.9" y2="668.6" stroke="#222" stroke-width="1.0"/>
<line x1="263.0" y1="667.0" x2="270.7" y2="667.0" stroke="#222" stroke-width="1.0"/>
<line x1="263.0" y1="668.6" x2="270.7" y2="668.6" stroke="#222" stroke-width="1.0"/>
<line x1="274.6" y1="624.2" x2="274.6" y2="625.0" stroke="#222" stroke-width="1.0"/>
<line x1="270.7" y1="624.2" x2="278.5" y2="624.2" stroke="#222" stroke-width="1.0"/>
<rect x="290.1" y="674.1" width="7.7" height="4.2" fill="#ffffff" stroke="#222" stroke-width="1.05"/>
<rect x="297.9" y="664.9" width="7.7" height="13.4" fill="#bebebe" stroke="#222" stroke-width="1.05"/>
<rect x="305.6" y="665.7" width="7.7" height="12.6" fill="#5e5e5e" stroke="#222" stroke-width="1.05"/>
<rect x="313.3" y="624.6" width="7.7" height="53.7" fill="#333333" stroke="#222" stroke-width="1.05"/>
<line x1="301.7" y1="661.9" x2="301.7" y2="667.8" stroke="#222" stroke-width="1.0"/>
<line x1="297.9" y1="661.9" x2="305.6" y2="661.9" stroke="#222" stroke-width="1.0"/>
<line x1="297.9" y1="667.8" x2="305.6" y2="667.8" stroke="#222" stroke-width="1.0"/>
<line x1="309.5" y1="663.2" x2="309.5" y2="668.2" stroke="#222" stroke-width="1.0"/>
<line x1="305.6" y1="663.2" x2="313.3" y2="663.2" stroke="#222" stroke-width="1.0"/>
<line x1="305.6" y1="668.2" x2="313.3" y2="668.2" stroke="#222" stroke-width="1.0"/>
<line x1="317.2" y1="611.6" x2="317.2" y2="624.6" stroke="#222" stroke-width="1.0"/>
<line x1="313.3" y1="611.6" x2="321.1" y2="611.6" stroke="#222" stroke-width="1.0"/>
<rect x="332.7" y="674.1" width="7.7" height="4.2" fill="#ffffff" stroke="#222" stroke-width="1.05"/>
<rect x="340.5" y="664.0" width="7.7" height="14.3" fill="#bebebe" stroke="#222" stroke-width="1.05"/>
<rect x="348.2" y="667.4" width="7.7" height="10.9" fill="#5e5e5e" stroke="#222" stroke-width="1.05"/>
<rect x="355.9" y="636.7" width="7.7" height="41.6" fill="#333333" stroke="#222" stroke-width="1.05"/>
<line x1="344.3" y1="661.9" x2="344.3" y2="666.1" stroke="#222" stroke-width="1.0"/>
<line x1="340.5" y1="661.9" x2="348.2" y2="661.9" stroke="#222" stroke-width="1.0"/>
<line x1="340.5" y1="666.1" x2="348.2" y2="666.1" stroke="#222" stroke-width="1.0"/>
<line x1="352.1" y1="660.7" x2="352.1" y2="672.8" stroke="#222" stroke-width="1.0"/>
<line x1="348.2" y1="660.7" x2="355.9" y2="660.7" stroke="#222" stroke-width="1.0"/>
<line x1="348.2" y1="672.8" x2="355.9" y2="672.8" stroke="#222" stroke-width="1.0"/>
<line x1="359.8" y1="620.8" x2="359.8" y2="636.7" stroke="#222" stroke-width="1.0"/>
<line x1="355.9" y1="620.8" x2="363.7" y2="620.8" stroke="#222" stroke-width="1.0"/>
<rect x="241.7" y="510.4" width="127.8" height="167.9" fill="none" stroke="#1f1f1f" stroke-width="1.3"/>
<line x1="238.7" y1="678.3" x2="241.7" y2="678.3" stroke="#1f1f1f" stroke-width="1"/>
<text x="235.0" y="681.4" font-size="8.8" fill="#444" text-anchor="end">0</text>
<line x1="238.7" y1="636.3" x2="241.7" y2="636.3" stroke="#1f1f1f" stroke-width="1"/>
<text x="235.0" y="639.4" font-size="8.8" fill="#444" text-anchor="end">10</text>
<line x1="238.7" y1="594.3" x2="241.7" y2="594.3" stroke="#1f1f1f" stroke-width="1"/>
<text x="235.0" y="597.4" font-size="8.8" fill="#444" text-anchor="end">20</text>
<line x1="238.7" y1="552.4" x2="241.7" y2="552.4" stroke="#1f1f1f" stroke-width="1"/>
<text x="235.0" y="555.5" font-size="8.8" fill="#444" text-anchor="end">30</text>
<line x1="238.7" y1="510.4" x2="241.7" y2="510.4" stroke="#1f1f1f" stroke-width="1"/>
<text x="235.0" y="513.5" font-size="8.8" fill="#444" text-anchor="end">40</text>
<rect x="406.6" y="674.1" width="9.9" height="4.2" fill="#ffffff" stroke="#222" stroke-width="1.05"/>
<rect x="416.5" y="666.5" width="9.9" height="11.8" fill="#bebebe" stroke="#222" stroke-width="1.05"/>
<rect x="426.4" y="667.8" width="9.9" height="10.5" fill="#5e5e5e" stroke="#222" stroke-width="1.05"/>
<rect x="436.3" y="642.2" width="9.9" height="36.1" fill="#333333" stroke="#222" stroke-width="1.05"/>
<line x1="421.5" y1="663.2" x2="421.5" y2="670.7" stroke="#222" stroke-width="1.0"/>
<line x1="416.5" y1="663.2" x2="426.4" y2="663.2" stroke="#222" stroke-width="1.0"/>
<line x1="416.5" y1="670.7" x2="426.4" y2="670.7" stroke="#222" stroke-width="1.0"/>
<line x1="431.3" y1="659.8" x2="431.3" y2="676.2" stroke="#222" stroke-width="1.0"/>
<line x1="426.4" y1="659.8" x2="436.3" y2="659.8" stroke="#222" stroke-width="1.0"/>
<line x1="426.4" y1="676.2" x2="436.3" y2="676.2" stroke="#222" stroke-width="1.0"/>
<line x1="441.2" y1="620.0" x2="441.2" y2="642.2" stroke="#222" stroke-width="1.0"/>
<line x1="436.3" y1="620.0" x2="446.2" y2="620.0" stroke="#222" stroke-width="1.0"/>
<rect x="399.2" y="510.4" width="54.4" height="167.9" fill="none" stroke="#1f1f1f" stroke-width="1.3"/>
<line x1="396.2" y1="678.3" x2="399.2" y2="678.3" stroke="#1f1f1f" stroke-width="1"/>
<text x="393.5" y="681.4" font-size="8.8" fill="#444" text-anchor="end">0</text>
<line x1="396.2" y1="636.3" x2="399.2" y2="636.3" stroke="#1f1f1f" stroke-width="1"/>
<text x="393.5" y="639.4" font-size="8.8" fill="#444" text-anchor="end">10</text>
<line x1="396.2" y1="594.3" x2="399.2" y2="594.3" stroke="#1f1f1f" stroke-width="1"/>
<text x="393.5" y="597.4" font-size="8.8" fill="#444" text-anchor="end">20</text>
<line x1="396.2" y1="552.4" x2="399.2" y2="552.4" stroke="#1f1f1f" stroke-width="1"/>
<text x="393.5" y="555.5" font-size="8.8" fill="#444" text-anchor="end">30</text>
<line x1="396.2" y1="510.4" x2="399.2" y2="510.4" stroke="#1f1f1f" stroke-width="1"/>
<text x="393.5" y="513.5" font-size="8.8" fill="#444" text-anchor="end">40</text>
<text x="107.6" y="539.1" font-size="9" fill="#333" text-anchor="middle" font-weight="bold">**</text>
<text x="139.4" y="581.5" font-size="9" fill="#333" text-anchor="middle" font-weight="bold">**</text>
<text x="173.0" y="598.6" font-size="9" fill="#333" text-anchor="middle" font-weight="bold">**</text>
<text x="201.5" y="624.6" font-size="9" fill="#333" text-anchor="middle" font-weight="bold">**</text>
<text x="273.6" y="608.2" font-size="9" fill="#333" text-anchor="middle" font-weight="bold">**</text>
<text x="315.2" y="599.3" font-size="9" fill="#333" text-anchor="middle" font-weight="bold">**</text>
<text x="356.2" y="599.3" font-size="9" fill="#333" text-anchor="middle" font-weight="bold">**</text>
<text x="441.5" y="608.2" font-size="9" fill="#333" text-anchor="middle" font-weight="bold">**</text>
<text x="101.8" y="629.2" font-size="7.5" fill="#666" text-anchor="middle" font-weight="bold">*</text>
<text x="132.1" y="645.8" font-size="7.5" fill="#666" text-anchor="middle" font-weight="bold">*</text>
<text x="163.0" y="656.1" font-size="7.5" fill="#666" text-anchor="middle" font-weight="bold">*</text>
<text x="195.8" y="658.6" font-size="7.5" fill="#666" text-anchor="middle" font-weight="bold">*</text>
<text x="266.3" y="661.3" font-size="7.5" fill="#666" text-anchor="middle" font-weight="bold">*</text>
<text x="305.0" y="658.7" font-size="7.5" fill="#666" text-anchor="middle" font-weight="bold">*</text>
<text x="344.0" y="655.4" font-size="7.5" fill="#666" text-anchor="middle" font-weight="bold">*</text>
<text x="433.3" y="654.7" font-size="7.5" fill="#666" text-anchor="middle" font-weight="bold">*</text>
<text x="100.8" y="703.8" font-size="12" fill="#262626" text-anchor="middle">Alb</text>
<text x="129.6" y="703.8" font-size="12" fill="#262626" text-anchor="middle">AFP</text>
<text x="164.0" y="703.8" font-size="12" fill="#262626" text-anchor="middle">G6PD</text>
<text x="197.0" y="703.8" font-size="12" fill="#262626" text-anchor="middle">GST</text>
<text x="260.5" y="703.0" font-size="12" fill="#262626" text-anchor="middle">KRT19</text>
<text x="303.0" y="695.9" font-size="12" fill="#262626" text-anchor="middle">Cea-</text>
<text x="308.5" y="711.4" font-size="12" fill="#262626" text-anchor="middle">CAM1</text>
<text x="350.3" y="703.0" font-size="12" fill="#262626" text-anchor="middle">TMSb4X</text>
<text x="431.6" y="703.0" font-size="12" fill="#262626" text-anchor="middle">HNF4α</text>
<text x="503.0" y="239.4" font-size="17" fill="#111" font-weight="bold">E</text>
<text x="518.0" y="253.5" font-size="11.9" fill="#262626">HepRG</text>
<rect x="636.4" y="249.8" width="9.2" height="7.0" fill="#333333"/>
<text x="648.3" y="256.7" font-size="12" fill="#262626">shLuc</text>
<rect x="688.2" y="246.0" width="8.6" height="10.4" fill="#fff" stroke="#32ad70" stroke-width="1.1"/>
<text x="709.3" y="256.7" font-size="12" fill="#32ad70">shUbe3a</text>
<text transform="translate(520.2 443.0) rotate(-90)" font-size="14.9" fill="#262626">Relative gene expression</text>
<text transform="translate(537.8 423.6) rotate(-90)" font-size="14.9" fill="#262626">(fold of shLuc-Veh)</text>
<text x="578.0" y="268.1" font-size="8.8" fill="#7a7a7a" text-anchor="end">1000000.0</text>
<text x="578.0" y="292.0" font-size="8.8" fill="#7a7a7a" text-anchor="end">100000.0</text>
<text x="578.0" y="315.8" font-size="8.8" fill="#7a7a7a" text-anchor="end">10000.0</text>
<text x="578.0" y="339.7" font-size="8.8" fill="#7a7a7a" text-anchor="end">1000.0</text>
<text x="578.0" y="363.6" font-size="8.8" fill="#7a7a7a" text-anchor="end">100.0</text>
<text x="578.0" y="387.5" font-size="8.8" fill="#7a7a7a" text-anchor="end">10.0</text>
<text x="578.0" y="411.3" font-size="8.8" fill="#7a7a7a" text-anchor="end">1.0</text>
<text x="578.0" y="435.2" font-size="8.8" fill="#7a7a7a" text-anchor="end">0.1</text>
<text x="602.5" y="280.8" font-size="12" fill="#262626">Ifna5</text>
<line x1="593.4" y1="407.7" x2="602.4" y2="407.7" stroke="#1f1f1f" stroke-width="1.2"/>
<rect x="615.0" y="409.0" width="22.7" height="6.0" fill="#fff" stroke="#32ad70" stroke-width="1.2"/>
<line x1="626.2" y1="412.6" x2="626.2" y2="416.6" stroke="#1f1f1f" stroke-width="1.25"/>
<line x1="623.2" y1="412.6" x2="629.2" y2="412.6" stroke="#1f1f1f" stroke-width="1.25"/>
<line x1="623.2" y1="416.6" x2="629.2" y2="416.6" stroke="#1f1f1f" stroke-width="1.25"/>
<text x="626.2" y="429.5" font-size="9" fill="#333" text-anchor="middle" font-weight="bold">**</text>
<rect x="647.0" y="281.8" width="22.1" height="127.2" fill="#333333"/>
<line x1="658.0" y1="280.5" x2="658.0" y2="281.8" stroke="#1f1f1f" stroke-width="1.25"/>
<line x1="655.0" y1="280.5" x2="661.0" y2="280.5" stroke="#1f1f1f" stroke-width="1.25"/>
<text x="655.9" y="277.4" font-size="6" fill="#555" text-anchor="middle">###</text>
<rect x="669.1" y="406.0" width="21.5" height="3.0" fill="#fff" stroke="#32ad70" stroke-width="1.2"/>
<line x1="680.0" y1="405.5" x2="680.0" y2="409.0" stroke="#1f1f1f" stroke-width="1.25"/>
<line x1="677.0" y1="405.5" x2="683.0" y2="405.5" stroke="#1f1f1f" stroke-width="1.25"/>
<line x1="677.0" y1="409.0" x2="683.0" y2="409.0" stroke="#1f1f1f" stroke-width="1.25"/>
<text x="683.3" y="397.1" font-size="9" fill="#333" text-anchor="middle" font-weight="bold">***</text>
<rect x="588.5" y="265.6" width="107.5" height="167.5" fill="none" stroke="#1f1f1f" stroke-width="1.4"/>
<line x1="593.4" y1="435.4" x2="632.0" y2="435.4" stroke="#555" stroke-width="1.3"/>
<line x1="653.7" y1="435.4" x2="692.2" y2="435.4" stroke="#555" stroke-width="1.3"/>
<text x="601.8" y="452.5" font-size="12" fill="#262626">Veh</text>
<text x="660.5" y="452.5" font-size="12" fill="#262626">DPN</text>
<text x="707.5" y="265.2" font-size="7.8" fill="#6a6a6a" text-anchor="end">10</text>
<text x="707.5" y="350.1" font-size="7.8" fill="#6a6a6a" text-anchor="end">1</text>
<text x="708.2" y="434.4" font-size="7.8" fill="#6a6a6a" text-anchor="end">0.1</text>
<text x="721.9" y="275.6" font-size="12" fill="#262626">Albumin</text>
<line x1="730.0" y1="347.6" x2="736.7" y2="347.6" stroke="#1f1f1f" stroke-width="1.2"/>
<rect x="744.7" y="347.6" width="17.5" height="10.6" fill="#fff" stroke="#32ad70" stroke-width="1.2"/>
<line x1="753.3" y1="356.2" x2="753.3" y2="359.9" stroke="#1f1f1f" stroke-width="1.25"/>
<line x1="750.3" y1="356.2" x2="756.3" y2="356.2" stroke="#1f1f1f" stroke-width="1.25"/>
<line x1="750.3" y1="359.9" x2="756.3" y2="359.9" stroke="#1f1f1f" stroke-width="1.25"/>
<text x="756.2" y="377.5" font-size="8" fill="#333" text-anchor="middle" font-weight="bold">*</text>
<rect x="776.4" y="323.5" width="17.9" height="24.5" fill="#333333"/>
<text x="783.0" y="308.2" font-size="6" fill="#555" text-anchor="middle">##</text>
<rect x="796.2" y="347.2" width="17.9" height="1.6" fill="#fff" stroke="#32ad70" stroke-width="1.0"/>
<line x1="805.0" y1="346.2" x2="805.0" y2="349.8" stroke="#1f1f1f" stroke-width="1.25"/>
<line x1="802.5" y1="346.2" x2="807.5" y2="346.2" stroke="#1f1f1f" stroke-width="1.25"/>
<line x1="802.5" y1="349.8" x2="807.5" y2="349.8" stroke="#1f1f1f" stroke-width="1.25"/>
<rect x="716.6" y="264.7" width="107.6" height="167.6" fill="none" stroke="#1f1f1f" stroke-width="1.4"/>
<line x1="729.1" y1="435.6" x2="767.1" y2="435.6" stroke="#555" stroke-width="1.3"/>
<line x1="779.7" y1="435.6" x2="817.7" y2="435.6" stroke="#555" stroke-width="1.3"/>
<text x="737.4" y="453.1" font-size="12" fill="#262626">Veh</text>
<text x="783.7" y="453.1" font-size="12" fill="#262626">DPN</text>
<text x="507.0" y="494.5" font-size="16.5" fill="#111" font-weight="bold">F</text>
<defs>
<clipPath id="yc"><circle cx="691" cy="605.5" r="115.5"/></clipPath>
<filter id="bl" x="-20%" y="-20%" width="140%" height="140%"><feGaussianBlur stdDeviation="3.2"/></filter>
<filter id="bl2" x="-40%" y="-40%" width="180%" height="180%"><feGaussianBlur stdDeviation="2.2"/></filter>
</defs>
<circle cx="691" cy="605.5" r="116.3" fill="#383838"/>
<circle cx="692.7" cy="606.4" r="114.2" fill="#fff"/>
<g clip-path="url(#yc)">
<path d="M712.6,493.2 L715.2,479.5 A129,129 0 0 1 682.0,734.3 L683,720.3 C681.2,719.8 675.5,718.9 672.0,717.6 C668.5,716.4 665.0,714.6 662.0,712.8 C659.0,710.9 656.3,709.1 654.0,706.5 C651.7,703.9 649.7,700.8 648.0,697.0 C646.3,693.2 644.8,688.8 643.8,684.0 C642.8,679.2 642.1,673.3 642.0,668.0 C641.9,662.7 642.1,657.0 643.0,652.0 C643.9,647.0 645.5,641.9 647.5,638.0 C649.5,634.1 651.6,631.3 655.0,628.5 C658.4,625.7 663.0,623.6 668.0,621.0 C673.0,618.4 679.2,615.7 685.0,613.0 C690.8,610.3 697.4,607.5 703.0,605.0 C708.6,602.5 713.9,601.0 718.5,598.3 C723.1,595.6 727.0,592.0 730.4,589.0 C733.8,586.0 736.5,583.5 739.0,580.5 C741.5,577.5 743.3,574.5 745.2,571.1 C747.1,567.7 749.2,563.5 750.5,560.0 C751.8,556.5 752.4,553.6 752.9,550.3 C753.4,547.0 753.5,543.5 753.2,540.0 C753.0,536.5 752.6,533.3 751.4,529.5 C750.1,525.7 748.2,520.7 745.7,517.0 C743.2,513.3 740.0,510.2 736.5,507.3 C733.0,504.4 729.0,501.7 725.0,499.3 C721.0,496.9 714.7,494.2 712.6,493.2 Z" fill="#3a3a3a" filter="url(#bl)"/>
<circle cx="691.5" cy="659.8" r="18.8" fill="#fff" filter="url(#bl2)"/>
</g>
<path d="M651.0,520.8 Q666.0,515.6 681.0,520.8 Q666.0,526.0 651.0,520.8 Z" fill="#f2858a" stroke="#5e9ad4" stroke-width="0.9"/>
<path d="M658.0,524.2 Q672.0,519.0 686.0,524.2 Q672.0,529.4 658.0,524.2 Z" fill="#f2858a" stroke="#5e9ad4" stroke-width="0.9"/>
<path d="M682.0,519.2 Q697.0,514.0 712.0,519.2 Q697.0,524.4 682.0,519.2 Z" fill="#f2858a" stroke="#5e9ad4" stroke-width="0.9"/>
<path d="M685.0,522.8 Q699.0,517.6 713.0,522.8 Q699.0,528.0 685.0,522.8 Z" fill="#f2858a" stroke="#5e9ad4" stroke-width="0.9"/>
<path d="M710.0,516.3 Q721.0,511.1 732.0,516.3 Q721.0,521.5 710.0,516.3 Z" fill="#f2858a" stroke="#5e9ad4" stroke-width="0.9"/>
<polygon points="670.6,517.1 665.8,520.2 660.7,517.6 660.4,511.9 665.2,508.8 670.3,511.4" fill="#79cfba" stroke="#389b74" stroke-width="1" stroke-linejoin="round"/>
<circle cx="665.6" cy="514.9" r="2.6" fill="#8ad5ec" stroke="#5aaed6" stroke-width="0.5"/>
<circle cx="665.6" cy="514.9" r="0.7" fill="#3f86c4"/>
<polygon points="679.5,517.7 674.6,520.7 669.5,518.0 669.3,512.3 674.2,509.3 679.3,512.0" fill="#79cfba" stroke="#389b74" stroke-width="1" stroke-linejoin="round"/>
<circle cx="674.4" cy="515.1" r="2.6" fill="#8ad5ec" stroke="#5aaed6" stroke-width="0.5"/>
<circle cx="674.4" cy="515.1" r="0.7" fill="#3f86c4"/>
<polygon points="686.9,517.1 683.2,521.4 677.5,520.3 675.7,514.9 679.4,510.6 685.1,511.7" fill="#79cfba" stroke="#389b74" stroke-width="1" stroke-linejoin="round"/>
<circle cx="681.3" cy="516.1" r="2.6" fill="#8ad5ec" stroke="#5aaed6" stroke-width="0.5"/>
<circle cx="681.3" cy="516.1" r="0.7" fill="#3f86c4"/>
<polygon points="694.2,515.3 688.6,516.5 684.7,512.2 686.4,506.7 692.0,505.5 695.9,509.8" fill="#79cfba" stroke="#389b74" stroke-width="1" stroke-linejoin="round"/>
<circle cx="689.9" cy="510.8" r="2.6" fill="#8ad5ec" stroke="#5aaed6" stroke-width="0.5"/>
<circle cx="689.9" cy="510.8" r="0.7" fill="#3f86c4"/>
<polygon points="705.7,512.0 702.4,516.7 696.7,516.2 694.3,511.0 697.6,506.3 703.3,506.8" fill="#79cfba" stroke="#389b74" stroke-width="1" stroke-linejoin="round"/>
<circle cx="700.3" cy="511.7" r="2.6" fill="#8ad5ec" stroke="#5aaed6" stroke-width="0.5"/>
<circle cx="700.3" cy="511.7" r="0.7" fill="#3f86c4"/>
<polygon points="715.9,512.3 712.9,517.1 707.1,516.8 704.5,511.7 707.5,506.9 713.3,507.2" fill="#79cfba" stroke="#389b74" stroke-width="1" stroke-linejoin="round"/>
<circle cx="710.7" cy="512.5" r="2.6" fill="#8ad5ec" stroke="#5aaed6" stroke-width="0.5"/>
<circle cx="710.7" cy="512.5" r="0.7" fill="#3f86c4"/>
<polygon points="725.0,516.6 719.7,518.7 715.2,515.0 716.2,509.4 721.5,507.3 726.0,511.0" fill="#79cfba" stroke="#389b74" stroke-width="1" stroke-linejoin="round"/>
<circle cx="720.7" cy="512.7" r="2.6" fill="#8ad5ec" stroke="#5aaed6" stroke-width="0.5"/>
<circle cx="720.7" cy="512.7" r="0.7" fill="#3f86c4"/>
<polygon points="667.7,506.1 664.8,511.0 659.0,510.9 656.3,505.9 659.2,501.0 665.0,501.1" fill="#79cfba" stroke="#389b74" stroke-width="1" stroke-linejoin="round"/>
<circle cx="662.0" cy="505.6" r="2.6" fill="#8ad5ec" stroke="#5aaed6" stroke-width="0.5"/>
<circle cx="662.0" cy="505.6" r="0.7" fill="#3f86c4"/>
<polygon points="678.0,506.1 674.2,510.5 668.6,509.3 666.8,503.9 670.6,499.5 676.2,500.7" fill="#79cfba" stroke="#389b74" stroke-width="1" stroke-linejoin="round"/>
<circle cx="672.1" cy="504.5" r="2.6" fill="#8ad5ec" stroke="#5aaed6" stroke-width="0.5"/>
<circle cx="672.1" cy="504.5" r="0.7" fill="#3f86c4"/>
<polygon points="687.1,509.2 682.2,512.2 677.1,509.6 676.9,503.8 681.8,500.8 686.9,503.4" fill="#79cfba" stroke="#389b74" stroke-width="1" stroke-linejoin="round"/>
<circle cx="681.9" cy="506.8" r="2.6" fill="#8ad5ec" stroke="#5aaed6" stroke-width="0.5"/>
<circle cx="681.9" cy="506.8" r="0.7" fill="#3f86c4"/>
<polygon points="694.5,505.5 689.5,508.2 684.6,505.3 684.7,499.5 689.7,496.8 694.6,499.7" fill="#79cfba" stroke="#389b74" stroke-width="1" stroke-linejoin="round"/>
<circle cx="689.7" cy="502.5" r="2.6" fill="#8ad5ec" stroke="#5aaed6" stroke-width="0.5"/>
<circle cx="689.7" cy="502.5" r="0.7" fill="#3f86c4"/>
<polygon points="703.6,506.7 698.2,508.7 693.8,505.0 694.8,499.3 700.2,497.3 704.6,501.0" fill="#79cfba" stroke="#389b74" stroke-width="1" stroke-linejoin="round"/>
<circle cx="699.2" cy="502.8" r="2.6" fill="#8ad5ec" stroke="#5aaed6" stroke-width="0.5"/>
<circle cx="699.2" cy="502.8" r="0.7" fill="#3f86c4"/>
<polygon points="711.1,509.0 705.3,509.0 702.5,504.0 705.3,499.0 711.1,499.0 713.9,504.0" fill="#79cfba" stroke="#389b74" stroke-width="1" stroke-linejoin="round"/>
<circle cx="708.7" cy="504.3" r="2.6" fill="#8ad5ec" stroke="#5aaed6" stroke-width="0.5"/>
<circle cx="708.7" cy="504.3" r="0.7" fill="#3f86c4"/>
<polygon points="722.0,507.9 716.5,509.6 712.3,505.7 713.6,500.1 719.1,498.4 723.3,502.3" fill="#79cfba" stroke="#389b74" stroke-width="1" stroke-linejoin="round"/>
<circle cx="717.6" cy="503.7" r="2.6" fill="#8ad5ec" stroke="#5aaed6" stroke-width="0.5"/>
<circle cx="717.6" cy="503.7" r="0.7" fill="#3f86c4"/>
<path d="M651.0,544.9 Q666.0,539.7 681.0,544.9 Q666.0,550.1 651.0,544.9 Z" fill="#f2858a" stroke="#5e9ad4" stroke-width="0.9"/>
<path d="M658.0,548.3 Q672.0,543.1 686.0,548.3 Q672.0,553.5 658.0,548.3 Z" fill="#f2858a" stroke="#5e9ad4" stroke-width="0.9"/>
<path d="M682.0,543.3 Q697.0,538.1 712.0,543.3 Q697.0,548.5 682.0,543.3 Z" fill="#f2858a" stroke="#5e9ad4" stroke-width="0.9"/>
<path d="M685.0,546.9 Q699.0,541.7 713.0,546.9 Q699.0,552.1 685.0,546.9 Z" fill="#f2858a" stroke="#5e9ad4" stroke-width="0.9"/>
<path d="M710.0,540.4 Q721.0,535.2 732.0,540.4 Q721.0,545.6 710.0,540.4 Z" fill="#f2858a" stroke="#5e9ad4" stroke-width="0.9"/>
<polygon points="671.0,540.3 666.8,544.2 661.3,542.5 660.0,536.9 664.2,533.0 669.7,534.7" fill="#79cfba" stroke="#389b74" stroke-width="1" stroke-linejoin="round"/>
<circle cx="665.1" cy="538.9" r="2.6" fill="#8ad5ec" stroke="#5aaed6" stroke-width="0.5"/>
<circle cx="665.1" cy="538.9" r="0.7" fill="#3f86c4"/>
<polygon points="679.6,541.4 675.0,544.8 669.7,542.5 669.2,536.8 673.8,533.4 679.1,535.7" fill="#79cfba" stroke="#389b74" stroke-width="1" stroke-linejoin="round"/>
<circle cx="674.7" cy="539.0" r="2.6" fill="#8ad5ec" stroke="#5aaed6" stroke-width="0.5"/>
<circle cx="674.7" cy="539.0" r="0.7" fill="#3f86c4"/>
<polygon points="684.4,545.0 678.6,545.2 675.6,540.3 678.2,535.2 684.0,535.0 687.0,539.9" fill="#79cfba" stroke="#389b74" stroke-width="1" stroke-linejoin="round"/>
<circle cx="681.6" cy="539.6" r="2.6" fill="#8ad5ec" stroke="#5aaed6" stroke-width="0.5"/>
<circle cx="681.6" cy="539.6" r="0.7" fill="#3f86c4"/>
<polygon points="695.9,536.4 692.0,540.6 686.4,539.3 684.7,533.8 688.6,529.6 694.2,530.9" fill="#79cfba" stroke="#389b74" stroke-width="1" stroke-linejoin="round"/>
<circle cx="690.7" cy="535.1" r="2.6" fill="#8ad5ec" stroke="#5aaed6" stroke-width="0.5"/>
<circle cx="690.7" cy="535.1" r="0.7" fill="#3f86c4"/>
<polygon points="703.0,540.5 697.2,540.6 694.3,535.7 697.0,530.7 702.8,530.6 705.7,535.5" fill="#79cfba" stroke="#389b74" stroke-width="1" stroke-linejoin="round"/>
<circle cx="699.9" cy="535.2" r="2.6" fill="#8ad5ec" stroke="#5aaed6" stroke-width="0.5"/>
<circle cx="699.9" cy="535.2" r="0.7" fill="#3f86c4"/>
<polygon points="714.7,539.6 709.4,541.8 704.9,538.3 705.7,532.6 711.0,530.4 715.5,533.9" fill="#79cfba" stroke="#389b74" stroke-width="1" stroke-linejoin="round"/>
<circle cx="710.5" cy="535.9" r="2.6" fill="#8ad5ec" stroke="#5aaed6" stroke-width="0.5"/>
<circle cx="710.5" cy="535.9" r="0.7" fill="#3f86c4"/>
<polygon points="726.3,537.6 723.0,542.3 717.3,541.8 714.9,536.6 718.2,531.9 723.9,532.4" fill="#79cfba" stroke="#389b74" stroke-width="1" stroke-linejoin="round"/>
<circle cx="720.4" cy="537.6" r="2.6" fill="#8ad5ec" stroke="#5aaed6" stroke-width="0.5"/>
<circle cx="720.4" cy="537.6" r="0.7" fill="#3f86c4"/>
<polygon points="666.0,534.2 660.5,535.6 656.4,531.5 658.0,526.0 663.5,524.6 667.6,528.7" fill="#79cfba" stroke="#389b74" stroke-width="1" stroke-linejoin="round"/>
<circle cx="661.6" cy="529.8" r="2.6" fill="#8ad5ec" stroke="#5aaed6" stroke-width="0.5"/>
<circle cx="661.6" cy="529.8" r="0.7" fill="#3f86c4"/>
<polygon points="678.1,529.7 674.7,534.4 669.0,533.7 666.7,528.5 670.1,523.8 675.8,524.5" fill="#79cfba" stroke="#389b74" stroke-width="1" stroke-linejoin="round"/>
<circle cx="672.0" cy="529.4" r="2.6" fill="#8ad5ec" stroke="#5aaed6" stroke-width="0.5"/>
<circle cx="672.0" cy="529.4" r="0.7" fill="#3f86c4"/>
<polygon points="687.7,531.7 683.9,536.0 678.3,535.0 676.3,529.5 680.1,525.2 685.7,526.2" fill="#79cfba" stroke="#389b74" stroke-width="1" stroke-linejoin="round"/>
<circle cx="682.1" cy="530.5" r="2.6" fill="#8ad5ec" stroke="#5aaed6" stroke-width="0.5"/>
<circle cx="682.1" cy="530.5" r="0.7" fill="#3f86c4"/>
<polygon points="695.2,527.7 691.4,532.1 685.8,530.9 684.0,525.5 687.8,521.1 693.4,522.3" fill="#79cfba" stroke="#389b74" stroke-width="1" stroke-linejoin="round"/>
<circle cx="689.8" cy="526.2" r="2.6" fill="#8ad5ec" stroke="#5aaed6" stroke-width="0.5"/>
<circle cx="689.8" cy="526.2" r="0.7" fill="#3f86c4"/>
<polygon points="703.7,530.7 698.3,532.8 693.8,529.2 694.7,523.5 700.1,521.4 704.6,525.0" fill="#79cfba" stroke="#389b74" stroke-width="1" stroke-linejoin="round"/>
<circle cx="698.8" cy="527.0" r="2.6" fill="#8ad5ec" stroke="#5aaed6" stroke-width="0.5"/>
<circle cx="698.8" cy="527.0" r="0.7" fill="#3f86c4"/>
<polygon points="713.8,529.4 709.9,533.6 704.3,532.3 702.6,526.8 706.5,522.6 712.1,523.9" fill="#79cfba" stroke="#389b74" stroke-width="1" stroke-linejoin="round"/>
<circle cx="708.0" cy="528.6" r="2.6" fill="#8ad5ec" stroke="#5aaed6" stroke-width="0.5"/>
<circle cx="708.0" cy="528.6" r="0.7" fill="#3f86c4"/>
<polygon points="721.6,532.4 716.0,533.6 712.2,529.3 714.0,523.8 719.6,522.6 723.4,526.9" fill="#79cfba" stroke="#389b74" stroke-width="1" stroke-linejoin="round"/>
<circle cx="717.6" cy="528.5" r="2.6" fill="#8ad5ec" stroke="#5aaed6" stroke-width="0.5"/>
<circle cx="717.6" cy="528.5" r="0.7" fill="#3f86c4"/>
<path d="M651.0,569.0 Q666.0,563.8 681.0,569.0 Q666.0,574.2 651.0,569.0 Z" fill="#f2858a" stroke="#5e9ad4" stroke-width="0.9"/>
<path d="M658.0,572.4 Q672.0,567.2 686.0,572.4 Q672.0,577.6 658.0,572.4 Z" fill="#f2858a" stroke="#5e9ad4" stroke-width="0.9"/>
<path d="M682.0,567.4 Q697.0,562.2 712.0,567.4 Q697.0,572.6 682.0,567.4 Z" fill="#f2858a" stroke="#5e9ad4" stroke-width="0.9"/>
<path d="M685.0,571.0 Q699.0,565.8 713.0,571.0 Q699.0,576.2 685.0,571.0 Z" fill="#f2858a" stroke="#5e9ad4" stroke-width="0.9"/>
<path d="M710.0,564.5 Q721.0,559.3 732.0,564.5 Q721.0,569.7 710.0,564.5 Z" fill="#f2858a" stroke="#5e9ad4" stroke-width="0.9"/>
<polygon points="671.1,564.0 667.2,568.2 661.6,566.9 659.9,561.4 663.8,557.2 669.4,558.5" fill="#79cfba" stroke="#389b74" stroke-width="1" stroke-linejoin="round"/>
<circle cx="665.4" cy="563.1" r="2.6" fill="#8ad5ec" stroke="#5aaed6" stroke-width="0.5"/>
<circle cx="665.4" cy="563.1" r="0.7" fill="#3f86c4"/>
<polygon points="678.9,566.8 673.5,568.9 669.0,565.3 669.9,559.6 675.3,557.5 679.8,561.1" fill="#79cfba" stroke="#389b74" stroke-width="1" stroke-linejoin="round"/>
<circle cx="674.0" cy="563.7" r="2.6" fill="#8ad5ec" stroke="#5aaed6" stroke-width="0.5"/>
<circle cx="674.0" cy="563.7" r="0.7" fill="#3f86c4"/>
<polygon points="686.9,565.5 683.0,569.7 677.4,568.4 675.7,562.9 679.6,558.7 685.2,560.0" fill="#79cfba" stroke="#389b74" stroke-width="1" stroke-linejoin="round"/>
<circle cx="681.1" cy="564.5" r="2.6" fill="#8ad5ec" stroke="#5aaed6" stroke-width="0.5"/>
<circle cx="681.1" cy="564.5" r="0.7" fill="#3f86c4"/>
<polygon points="695.7,561.1 691.3,564.9 685.9,562.9 684.9,557.3 689.3,553.5 694.7,555.5" fill="#79cfba" stroke="#389b74" stroke-width="1" stroke-linejoin="round"/>
<circle cx="690.1" cy="558.8" r="2.6" fill="#8ad5ec" stroke="#5aaed6" stroke-width="0.5"/>
<circle cx="690.1" cy="558.8" r="0.7" fill="#3f86c4"/>
<polygon points="705.7,560.2 702.4,564.9 696.7,564.4 694.3,559.2 697.6,554.5 703.3,555.0" fill="#79cfba" stroke="#389b74" stroke-width="1" stroke-linejoin="round"/>
<circle cx="700.1" cy="559.4" r="2.6" fill="#8ad5ec" stroke="#5aaed6" stroke-width="0.5"/>
<circle cx="700.1" cy="559.4" r="0.7" fill="#3f86c4"/>
<polygon points="714.8,563.6 709.6,565.9 704.9,562.5 705.6,556.8 710.8,554.5 715.5,557.9" fill="#79cfba" stroke="#389b74" stroke-width="1" stroke-linejoin="round"/>
<circle cx="710.1" cy="560.2" r="2.6" fill="#8ad5ec" stroke="#5aaed6" stroke-width="0.5"/>
<circle cx="710.1" cy="560.2" r="0.7" fill="#3f86c4"/>
<polygon points="723.7,566.1 717.9,566.3 714.9,561.4 717.5,556.3 723.3,556.1 726.3,561.0" fill="#79cfba" stroke="#389b74" stroke-width="1" stroke-linejoin="round"/>
<circle cx="720.6" cy="561.3" r="2.6" fill="#8ad5ec" stroke="#5aaed6" stroke-width="0.5"/>
<circle cx="720.6" cy="561.3" r="0.7" fill="#3f86c4"/>
<polygon points="665.5,558.7 659.8,559.5 656.3,555.0 658.5,549.7 664.2,548.9 667.7,553.4" fill="#79cfba" stroke="#389b74" stroke-width="1" stroke-linejoin="round"/>
<circle cx="661.7" cy="553.9" r="2.6" fill="#8ad5ec" stroke="#5aaed6" stroke-width="0.5"/>
<circle cx="661.7" cy="553.9" r="0.7" fill="#3f86c4"/>
<polygon points="675.7,557.9 670.0,558.4 666.7,553.7 669.1,548.5 674.8,548.0 678.1,552.7" fill="#79cfba" stroke="#389b74" stroke-width="1" stroke-linejoin="round"/>
<circle cx="672.7" cy="552.9" r="2.6" fill="#8ad5ec" stroke="#5aaed6" stroke-width="0.5"/>
<circle cx="672.7" cy="552.9" r="0.7" fill="#3f86c4"/>
<polygon points="687.6,555.8 683.8,560.2 678.2,559.0 676.4,553.6 680.2,549.2 685.8,550.4" fill="#79cfba" stroke="#389b74" stroke-width="1" stroke-linejoin="round"/>
<circle cx="682.2" cy="555.1" r="2.6" fill="#8ad5ec" stroke="#5aaed6" stroke-width="0.5"/>
<circle cx="682.2" cy="555.1" r="0.7" fill="#3f86c4"/>
<polygon points="695.2,551.9 691.4,556.2 685.8,555.0 684.0,549.5 687.8,545.2 693.4,546.4" fill="#79cfba" stroke="#389b74" stroke-width="1" stroke-linejoin="round"/>
<circle cx="690.1" cy="551.1" r="2.6" fill="#8ad5ec" stroke="#5aaed6" stroke-width="0.5"/>
<circle cx="690.1" cy="551.1" r="0.7" fill="#3f86c4"/>
<polygon points="703.8,554.6 698.6,556.9 693.9,553.5 694.6,547.8 699.8,545.5 704.5,548.9" fill="#79cfba" stroke="#389b74" stroke-width="1" stroke-linejoin="round"/>
<circle cx="699.1" cy="550.8" r="2.6" fill="#8ad5ec" stroke="#5aaed6" stroke-width="0.5"/>
<circle cx="699.1" cy="550.8" r="0.7" fill="#3f86c4"/>
<polygon points="713.9,552.4 710.9,557.3 705.1,557.1 702.5,552.0 705.5,547.1 711.3,547.3" fill="#79cfba" stroke="#389b74" stroke-width="1" stroke-linejoin="round"/>
<circle cx="708.7" cy="551.9" r="2.6" fill="#8ad5ec" stroke="#5aaed6" stroke-width="0.5"/>
<circle cx="708.7" cy="551.9" r="0.7" fill="#3f86c4"/>
<polygon points="722.0,556.1 716.6,557.8 712.3,553.9 713.6,548.3 719.0,546.6 723.3,550.5" fill="#79cfba" stroke="#389b74" stroke-width="1" stroke-linejoin="round"/>
<circle cx="717.6" cy="552.5" r="2.6" fill="#8ad5ec" stroke="#5aaed6" stroke-width="0.5"/>
<circle cx="717.6" cy="552.5" r="0.7" fill="#3f86c4"/>
<path d="M651.0,618.0 Q662.5,614.4 674.0,618.0 Q662.5,621.6 651.0,618.0 Z" fill="#f2858a" stroke="#5e9ad4" stroke-width="0.9"/>
<path d="M663.0,620.8 Q675.0,617.2 687.0,620.8 Q675.0,624.4 663.0,620.8 Z" fill="#f2858a" stroke="#5e9ad4" stroke-width="0.9"/>
<path d="M679.5,618.3 Q692.0,614.7 704.5,618.3 Q692.0,621.9 679.5,618.3 Z" fill="#f2858a" stroke="#5e9ad4" stroke-width="0.9"/>
<path d="M693.0,620.6 Q705.0,617.0 717.0,620.6 Q705.0,624.2 693.0,620.6 Z" fill="#f2858a" stroke="#5e9ad4" stroke-width="0.9"/>
<path d="M710.0,617.5 Q719.5,613.9 729.0,617.5 Q719.5,621.1 710.0,617.5 Z" fill="#f2858a" stroke="#5e9ad4" stroke-width="0.9"/>
<polygon points="666.6,615.4 661.3,617.7 656.7,614.3 657.2,608.6 662.5,606.3 667.1,609.7" fill="#79cfba" stroke="#389b74" stroke-width="1" stroke-linejoin="round"/>
<circle cx="661.7" cy="611.7" r="2.6" fill="#8ad5ec" stroke="#5aaed6" stroke-width="0.5"/>
<circle cx="661.7" cy="611.7" r="0.7" fill="#3f86c4"/>
<polygon points="674.8,616.2 669.3,617.9 665.1,613.9 666.4,608.4 671.9,606.7 676.1,610.7" fill="#79cfba" stroke="#389b74" stroke-width="1" stroke-linejoin="round"/>
<circle cx="670.2" cy="612.0" r="2.6" fill="#8ad5ec" stroke="#5aaed6" stroke-width="0.5"/>
<circle cx="670.2" cy="612.0" r="0.7" fill="#3f86c4"/>
<polygon points="682.5,616.2 677.3,618.7 672.5,615.6 672.9,609.8 678.1,607.3 682.9,610.4" fill="#79cfba" stroke="#389b74" stroke-width="1" stroke-linejoin="round"/>
<circle cx="678.1" cy="613.1" r="2.6" fill="#8ad5ec" stroke="#5aaed6" stroke-width="0.5"/>
<circle cx="678.1" cy="613.1" r="0.7" fill="#3f86c4"/>
<polygon points="691.9,612.7 687.7,616.6 682.2,614.9 680.9,609.3 685.1,605.4 690.6,607.1" fill="#79cfba" stroke="#389b74" stroke-width="1" stroke-linejoin="round"/>
<circle cx="686.8" cy="610.7" r="2.6" fill="#8ad5ec" stroke="#5aaed6" stroke-width="0.5"/>
<circle cx="686.8" cy="610.7" r="0.7" fill="#3f86c4"/>
<polygon points="702.4,611.6 699.5,616.5 693.7,616.4 691.0,611.4 693.9,606.5 699.7,606.6" fill="#79cfba" stroke="#389b74" stroke-width="1" stroke-linejoin="round"/>
<circle cx="696.5" cy="611.4" r="2.6" fill="#8ad5ec" stroke="#5aaed6" stroke-width="0.5"/>
<circle cx="696.5" cy="611.4" r="0.7" fill="#3f86c4"/>
<polygon points="712.7,612.4 709.6,617.2 703.8,616.8 701.3,611.6 704.4,606.8 710.2,607.2" fill="#79cfba" stroke="#389b74" stroke-width="1" stroke-linejoin="round"/>
<circle cx="706.7" cy="611.9" r="2.6" fill="#8ad5ec" stroke="#5aaed6" stroke-width="0.5"/>
<circle cx="706.7" cy="611.9" r="0.7" fill="#3f86c4"/>
<polygon points="720.4,616.5 715.3,618.9 710.5,615.7 711.0,609.9 716.1,607.5 720.9,610.7" fill="#79cfba" stroke="#389b74" stroke-width="1" stroke-linejoin="round"/>
<circle cx="715.3" cy="613.1" r="2.6" fill="#8ad5ec" stroke="#5aaed6" stroke-width="0.5"/>
<circle cx="715.3" cy="613.1" r="0.7" fill="#3f86c4"/>
<polygon points="660.6,607.8 654.9,608.5 651.5,603.8 653.8,598.6 659.5,597.9 662.9,602.6" fill="#79cfba" stroke="#389b74" stroke-width="1" stroke-linejoin="round"/>
<circle cx="657.7" cy="603.4" r="2.6" fill="#8ad5ec" stroke="#5aaed6" stroke-width="0.5"/>
<circle cx="657.7" cy="603.4" r="0.7" fill="#3f86c4"/>
<polygon points="671.8,607.3 666.3,609.1 662.0,605.3 663.2,599.7 668.7,597.9 673.0,601.7" fill="#79cfba" stroke="#389b74" stroke-width="1" stroke-linejoin="round"/>
<circle cx="667.6" cy="603.1" r="2.6" fill="#8ad5ec" stroke="#5aaed6" stroke-width="0.5"/>
<circle cx="667.6" cy="603.1" r="0.7" fill="#3f86c4"/>
<polygon points="682.7,604.2 679.7,609.1 673.9,608.9 671.3,603.8 674.3,598.9 680.1,599.1" fill="#79cfba" stroke="#389b74" stroke-width="1" stroke-linejoin="round"/>
<circle cx="676.5" cy="604.4" r="2.6" fill="#8ad5ec" stroke="#5aaed6" stroke-width="0.5"/>
<circle cx="676.5" cy="604.4" r="0.7" fill="#3f86c4"/>
<polygon points="688.3,603.4 682.8,605.1 678.5,601.3 679.7,595.6 685.2,593.9 689.5,597.7" fill="#79cfba" stroke="#389b74" stroke-width="1" stroke-linejoin="round"/>
<circle cx="684.5" cy="599.0" r="2.6" fill="#8ad5ec" stroke="#5aaed6" stroke-width="0.5"/>
<circle cx="684.5" cy="599.0" r="0.7" fill="#3f86c4"/>
<polygon points="698.1,605.1 692.8,607.2 688.3,603.6 689.1,597.9 694.4,595.8 698.9,599.4" fill="#79cfba" stroke="#389b74" stroke-width="1" stroke-linejoin="round"/>
<circle cx="693.6" cy="601.7" r="2.6" fill="#8ad5ec" stroke="#5aaed6" stroke-width="0.5"/>
<circle cx="693.6" cy="601.7" r="0.7" fill="#3f86c4"/>
<polygon points="708.4,604.9 704.1,608.6 698.6,606.8 697.6,601.1 701.9,597.4 707.4,599.2" fill="#79cfba" stroke="#389b74" stroke-width="1" stroke-linejoin="round"/>
<circle cx="703.5" cy="602.6" r="2.6" fill="#8ad5ec" stroke="#5aaed6" stroke-width="0.5"/>
<circle cx="703.5" cy="602.6" r="0.7" fill="#3f86c4"/>
<polygon points="717.4,607.1 712.3,609.7 707.5,606.6 707.8,600.9 712.9,598.3 717.7,601.4" fill="#79cfba" stroke="#389b74" stroke-width="1" stroke-linejoin="round"/>
<circle cx="712.8" cy="604.4" r="2.6" fill="#8ad5ec" stroke="#5aaed6" stroke-width="0.5"/>
<circle cx="712.8" cy="604.4" r="0.7" fill="#3f86c4"/>
<path d="M653.5,677.0 Q669.5,675.2 685.5,677.0 Q669.5,678.8 653.5,677.0 Z" fill="#ee6f78" stroke="#c95a68" stroke-width="0.9"/>
<path d="M681.0,676.6 Q704.5,674.8 728.0,676.6 Q704.5,678.4 681.0,676.6 Z" fill="#ee6f78" stroke="#c95a68" stroke-width="0.9"/>
<path d="M663.2,680.9 Q673.7,679.1 684.2,680.9 Q673.7,682.7 663.2,680.9 Z" fill="#ee6f78" stroke="#c95a68" stroke-width="0.9"/>
<path d="M687.7,680.7 Q697.7,678.9 707.7,680.7 Q697.7,682.5 687.7,680.7 Z" fill="#ee6f78" stroke="#c95a68" stroke-width="0.9"/>
<polygon points="658.0,668.8 663.1,666.3 667.8,669.5 662.9,672.4" fill="#b9dbe5" stroke="#24404a" stroke-width="0.9" stroke-linejoin="round"/>
<polygon points="658.0,668.8 662.9,672.4 662.3,677.7 657.6,674.5" fill="#8fbfce" stroke="#24404a" stroke-width="0.9" stroke-linejoin="round"/>
<polygon points="662.9,672.4 667.8,669.5 667.4,675.2 662.3,677.7" fill="#72a6b9" stroke="#24404a" stroke-width="0.9" stroke-linejoin="round"/>
<polygon points="666.4,668.9 671.7,666.6 676.2,670.0 670.9,672.6" fill="#b9dbe5" stroke="#24404a" stroke-width="0.9" stroke-linejoin="round"/>
<polygon points="666.4,668.9 670.9,672.6 670.3,678.0 665.8,674.6" fill="#8fbfce" stroke="#24404a" stroke-width="0.9" stroke-linejoin="round"/>
<polygon points="670.9,672.6 676.2,670.0 675.6,675.7 670.3,678.0" fill="#72a6b9" stroke="#24404a" stroke-width="0.9" stroke-linejoin="round"/>
<polygon points="673.9,669.6 679.1,667.3 683.7,670.7 678.8,673.1" fill="#b9dbe5" stroke="#24404a" stroke-width="0.9" stroke-linejoin="round"/>
<polygon points="673.9,669.6 678.8,673.1 677.9,678.7 673.3,675.3" fill="#8fbfce" stroke="#24404a" stroke-width="0.9" stroke-linejoin="round"/>
<polygon points="678.8,673.1 683.7,670.7 683.1,676.4 677.9,678.7" fill="#72a6b9" stroke="#24404a" stroke-width="0.9" stroke-linejoin="round"/>
<polygon points="682.8,668.3 688.0,665.8 692.7,669.1 687.8,671.8" fill="#b9dbe5" stroke="#24404a" stroke-width="0.9" stroke-linejoin="round"/>
<polygon points="682.8,668.3 687.8,671.8 687.0,677.2 682.3,673.9" fill="#8fbfce" stroke="#24404a" stroke-width="0.9" stroke-linejoin="round"/>
<polygon points="687.8,671.8 692.7,669.1 692.2,674.7 687.0,677.2" fill="#72a6b9" stroke="#24404a" stroke-width="0.9" stroke-linejoin="round"/>
<polygon points="692.3,668.8 697.3,666.1 702.1,669.1 697.0,672.1" fill="#b9dbe5" stroke="#24404a" stroke-width="0.9" stroke-linejoin="round"/>
<polygon points="692.3,668.8 697.0,672.1 696.9,677.5 692.1,674.5" fill="#8fbfce" stroke="#24404a" stroke-width="0.9" stroke-linejoin="round"/>
<polygon points="697.0,672.1 702.1,669.1 701.9,674.8 696.9,677.5" fill="#72a6b9" stroke="#24404a" stroke-width="0.9" stroke-linejoin="round"/>
<polygon points="702.7,669.0 707.7,666.3 712.5,669.3 707.2,672.3" fill="#b9dbe5" stroke="#24404a" stroke-width="0.9" stroke-linejoin="round"/>
<polygon points="702.7,669.0 707.2,672.3 707.3,677.7 702.5,674.7" fill="#8fbfce" stroke="#24404a" stroke-width="0.9" stroke-linejoin="round"/>
<polygon points="707.2,672.3 712.5,669.3 712.3,675.0 707.3,677.7" fill="#72a6b9" stroke="#24404a" stroke-width="0.9" stroke-linejoin="round"/>
<polygon points="713.3,670.0 718.6,667.9 723.1,671.4 718.1,673.9" fill="#b9dbe5" stroke="#24404a" stroke-width="0.9" stroke-linejoin="round"/>
<polygon points="713.3,670.0 718.1,673.9 717.0,679.1 712.5,675.6" fill="#8fbfce" stroke="#24404a" stroke-width="0.9" stroke-linejoin="round"/>
<polygon points="718.1,673.9 723.1,671.4 722.3,677.0 717.0,679.1" fill="#72a6b9" stroke="#24404a" stroke-width="0.9" stroke-linejoin="round"/>
<polygon points="654.3,662.1 659.1,659.1 664.1,661.8 659.5,665.1" fill="#b9dbe5" stroke="#24404a" stroke-width="0.9" stroke-linejoin="round"/>
<polygon points="654.3,662.1 659.5,665.1 659.5,670.5 654.5,667.8" fill="#8fbfce" stroke="#24404a" stroke-width="0.9" stroke-linejoin="round"/>
<polygon points="659.5,665.1 664.1,661.8 664.3,667.5 659.5,670.5" fill="#72a6b9" stroke="#24404a" stroke-width="0.9" stroke-linejoin="round"/>
<polygon points="664.6,661.4 669.5,658.5 674.5,661.3 669.9,664.1" fill="#b9dbe5" stroke="#24404a" stroke-width="0.9" stroke-linejoin="round"/>
<polygon points="664.6,661.4 669.9,664.1 669.7,669.9 664.7,667.1" fill="#8fbfce" stroke="#24404a" stroke-width="0.9" stroke-linejoin="round"/>
<polygon points="669.9,664.1 674.5,661.3 674.6,667.0 669.7,669.9" fill="#72a6b9" stroke="#24404a" stroke-width="0.9" stroke-linejoin="round"/>
<polygon points="674.5,660.3 679.6,657.8 684.3,661.0 678.8,663.8" fill="#b9dbe5" stroke="#24404a" stroke-width="0.9" stroke-linejoin="round"/>
<polygon points="674.5,660.3 678.8,663.8 678.8,669.2 674.1,666.0" fill="#8fbfce" stroke="#24404a" stroke-width="0.9" stroke-linejoin="round"/>
<polygon points="678.8,663.8 684.3,661.0 683.9,666.7 678.8,669.2" fill="#72a6b9" stroke="#24404a" stroke-width="0.9" stroke-linejoin="round"/>
<polygon points="681.8,656.8 686.8,653.9 691.7,656.7 686.6,660.0" fill="#b9dbe5" stroke="#24404a" stroke-width="0.9" stroke-linejoin="round"/>
<polygon points="681.8,656.8 686.6,660.0 686.8,665.3 681.9,662.5" fill="#8fbfce" stroke="#24404a" stroke-width="0.9" stroke-linejoin="round"/>
<polygon points="686.6,660.0 691.7,656.7 691.8,662.4 686.8,665.3" fill="#72a6b9" stroke="#24404a" stroke-width="0.9" stroke-linejoin="round"/>
<polygon points="690.9,659.0 695.8,656.1 700.7,658.9 695.9,662.3" fill="#b9dbe5" stroke="#24404a" stroke-width="0.9" stroke-linejoin="round"/>
<polygon points="690.9,659.0 695.9,662.3 695.8,667.5 690.9,664.7" fill="#8fbfce" stroke="#24404a" stroke-width="0.9" stroke-linejoin="round"/>
<polygon points="695.9,662.3 700.7,658.9 700.7,664.6 695.8,667.5" fill="#72a6b9" stroke="#24404a" stroke-width="0.9" stroke-linejoin="round"/>
<polygon points="699.6,660.7 704.3,657.5 709.4,660.0 704.3,663.2" fill="#b9dbe5" stroke="#24404a" stroke-width="0.9" stroke-linejoin="round"/>
<polygon points="699.6,660.7 704.3,663.2 705.1,668.9 700.0,666.4" fill="#8fbfce" stroke="#24404a" stroke-width="0.9" stroke-linejoin="round"/>
<polygon points="704.3,663.2 709.4,660.0 709.8,665.7 705.1,668.9" fill="#72a6b9" stroke="#24404a" stroke-width="0.9" stroke-linejoin="round"/>
<polygon points="709.5,661.2 714.6,658.6 719.4,661.7 714.1,664.2" fill="#b9dbe5" stroke="#24404a" stroke-width="0.9" stroke-linejoin="round"/>
<polygon points="709.5,661.2 714.1,664.2 714.0,670.0 709.2,666.9" fill="#8fbfce" stroke="#24404a" stroke-width="0.9" stroke-linejoin="round"/>
<polygon points="714.1,664.2 719.4,661.7 719.1,667.4 714.0,670.0" fill="#72a6b9" stroke="#24404a" stroke-width="0.9" stroke-linejoin="round"/>
<text x="688.8" y="585.7" font-size="12" fill="#d6353e" text-anchor="middle">proliferation</text>
<text x="692.2" y="631.3" font-size="12" fill="#fff" text-anchor="middle" font-weight="bold">Quality of LR</text>
<text x="684.1" y="692.2" font-size="12" fill="#2fa858" text-anchor="middle">differentiation</text>
<text transform="translate(596.8 608.6) rotate(-49.3)" font-size="12.3" fill="#d6353e"><tspan font-weight="bold">ERα</tspan><tspan font-family="DejaVu Sans, Liberation Sans, sans-serif" font-weight="normal" font-size="14" dy="0.8">→</tspan><tspan dy="-0.8">Chd1</tspan></text>
<text transform="translate(735.6 668.2) rotate(-50)" font-size="12.4" fill="#2fa858">Ube3a<tspan font-family="DejaVu Sans, Liberation Sans, sans-serif" font-weight="bold" font-size="13" dy="0.8">←</tspan><tspan font-weight="bold" dy="-0.8">ERβ</tspan></text>
</svg>
</body></html>
